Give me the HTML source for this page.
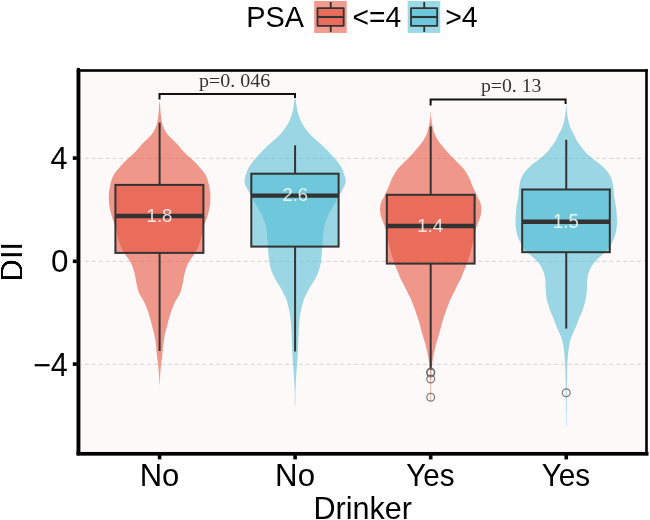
<!DOCTYPE html>
<html><head><meta charset="utf-8"><style>
html,body{margin:0;padding:0;background:#fff;}
svg{display:block;will-change:transform;}
text{font-family:"Liberation Sans", sans-serif;}
</style></head><body>
<svg width="650" height="520" viewBox="0 0 650 520">
<rect x="80" y="71" width="566" height="382" fill="#FDF9F8"/>
<line x1="81" y1="158.4" x2="645" y2="158.4" stroke="#DDD9D9" stroke-width="1.25" stroke-dasharray="3.8 3.1" stroke-dashoffset="-4"/>
<line x1="81" y1="261.3" x2="645" y2="261.3" stroke="#DDD9D9" stroke-width="1.25" stroke-dasharray="3.8 3.1" stroke-dashoffset="-4"/>
<line x1="81" y1="364.4" x2="645" y2="364.4" stroke="#DDD9D9" stroke-width="1.25" stroke-dasharray="3.8 3.1" stroke-dashoffset="-4"/>
<path d="M159.85,101.50 L159.85,102.00 L159.85,102.50 L159.85,103.00 L159.92,103.50 L159.99,104.00 L160.05,104.50 L160.10,105.00 L160.14,105.50 L160.17,106.00 L160.19,106.50 L160.22,107.00 L160.24,107.50 L160.26,108.00 L160.29,108.50 L160.31,109.00 L160.34,109.50 L160.38,110.00 L160.42,110.50 L160.46,111.00 L160.51,111.50 L160.56,112.00 L160.61,112.50 L160.66,113.00 L160.71,113.50 L160.76,114.00 L160.81,114.50 L160.86,115.00 L160.90,115.50 L160.95,116.00 L161.00,116.50 L161.05,117.00 L161.10,117.50 L161.15,118.00 L161.21,118.50 L161.27,119.00 L161.34,119.50 L161.42,120.00 L161.51,120.50 L161.60,121.00 L161.70,121.50 L161.81,122.00 L161.92,122.50 L162.04,123.00 L162.17,123.50 L162.30,124.00 L162.44,124.50 L162.61,125.00 L162.78,125.50 L162.97,126.00 L163.17,126.50 L163.38,127.00 L163.60,127.50 L163.83,128.00 L164.06,128.50 L164.30,129.00 L164.54,129.50 L164.80,130.00 L165.07,130.50 L165.36,131.00 L165.65,131.50 L165.96,132.00 L166.28,132.50 L166.61,133.00 L166.96,133.50 L167.32,134.00 L167.71,134.50 L168.12,135.00 L168.56,135.50 L169.01,136.00 L169.47,136.50 L169.95,137.00 L170.43,137.50 L170.92,138.00 L171.40,138.50 L171.89,139.00 L172.41,139.50 L172.94,140.00 L173.48,140.50 L174.02,141.00 L174.56,141.50 L175.09,142.00 L175.61,142.50 L176.11,143.00 L176.59,143.50 L177.05,144.00 L177.49,144.50 L177.93,145.00 L178.35,145.50 L178.77,146.00 L179.19,146.50 L179.60,147.00 L180.02,147.50 L180.43,148.00 L180.86,148.50 L181.29,149.00 L181.73,149.50 L182.18,150.00 L182.64,150.50 L183.10,151.00 L183.56,151.50 L184.04,152.00 L184.51,152.50 L184.99,153.00 L185.49,153.50 L185.99,154.00 L186.50,154.50 L187.02,155.00 L187.57,155.50 L188.13,156.00 L188.70,156.50 L189.28,157.00 L189.86,157.50 L190.44,158.00 L191.01,158.50 L191.57,159.00 L192.11,159.50 L192.64,160.00 L193.17,160.50 L193.70,161.00 L194.22,161.50 L194.74,162.00 L195.25,162.50 L195.75,163.00 L196.24,163.50 L196.71,164.00 L197.18,164.50 L197.63,165.00 L198.07,165.50 L198.50,166.00 L198.92,166.50 L199.34,167.00 L199.76,167.50 L200.17,168.00 L200.59,168.50 L201.00,169.00 L201.42,169.50 L201.86,170.00 L202.30,170.50 L202.74,171.00 L203.18,171.50 L203.60,172.00 L204.00,172.50 L204.37,173.00 L204.71,173.50 L205.02,174.00 L205.30,174.50 L205.57,175.00 L205.83,175.50 L206.08,176.00 L206.31,176.50 L206.53,177.00 L206.74,177.50 L206.94,178.00 L207.13,178.50 L207.31,179.00 L207.48,179.50 L207.64,180.00 L207.80,180.50 L207.95,181.00 L208.09,181.50 L208.23,182.00 L208.36,182.50 L208.48,183.00 L208.60,183.50 L208.71,184.00 L208.81,184.50 L208.91,185.00 L209.01,185.50 L209.10,186.00 L209.19,186.50 L209.27,187.00 L209.36,187.50 L209.45,188.00 L209.54,188.50 L209.63,189.00 L209.74,189.50 L209.84,190.00 L209.95,190.50 L210.05,191.00 L210.13,191.50 L210.21,192.00 L210.26,192.50 L210.30,193.00 L210.31,193.50 L210.32,194.00 L210.34,194.50 L210.35,195.00 L210.36,195.50 L210.37,196.00 L210.38,196.50 L210.38,197.00 L210.39,197.50 L210.39,198.00 L210.40,198.50 L210.40,199.00 L210.40,199.50 L210.40,200.00 L210.38,200.50 L210.35,201.00 L210.31,201.50 L210.27,202.00 L210.22,202.50 L210.16,203.00 L210.10,203.50 L210.05,204.00 L209.99,204.50 L209.93,205.00 L209.86,205.50 L209.78,206.00 L209.70,206.50 L209.62,207.00 L209.53,207.50 L209.44,208.00 L209.34,208.50 L209.24,209.00 L209.14,209.50 L209.03,210.00 L208.91,210.50 L208.79,211.00 L208.67,211.50 L208.54,212.00 L208.40,212.50 L208.27,213.00 L208.14,213.50 L208.00,214.00 L207.87,214.50 L207.73,215.00 L207.59,215.50 L207.45,216.00 L207.31,216.50 L207.16,217.00 L207.01,217.50 L206.86,218.00 L206.70,218.50 L206.53,219.00 L206.35,219.50 L206.17,220.00 L205.97,220.50 L205.77,221.00 L205.56,221.50 L205.36,222.00 L205.16,222.50 L204.96,223.00 L204.77,223.50 L204.59,224.00 L204.41,224.50 L204.23,225.00 L204.04,225.50 L203.86,226.00 L203.69,226.50 L203.53,227.00 L203.37,227.50 L203.23,228.00 L203.10,228.50 L202.98,229.00 L202.88,229.50 L202.78,230.00 L202.69,230.50 L202.61,231.00 L202.52,231.50 L202.44,232.00 L202.36,232.50 L202.28,233.00 L202.19,233.50 L202.10,234.00 L202.01,234.50 L201.90,235.00 L201.79,235.50 L201.66,236.00 L201.54,236.50 L201.41,237.00 L201.27,237.50 L201.13,238.00 L200.98,238.50 L200.84,239.00 L200.69,239.50 L200.54,240.00 L200.39,240.50 L200.23,241.00 L200.07,241.50 L199.90,242.00 L199.74,242.50 L199.57,243.00 L199.39,243.50 L199.22,244.00 L199.04,244.50 L198.86,245.00 L198.68,245.50 L198.49,246.00 L198.31,246.50 L198.12,247.00 L197.92,247.50 L197.72,248.00 L197.51,248.50 L197.29,249.00 L197.05,249.50 L196.80,250.00 L196.53,250.50 L196.24,251.00 L195.94,251.50 L195.63,252.00 L195.31,252.50 L194.99,253.00 L194.66,253.50 L194.33,254.00 L194.00,254.50 L193.66,255.00 L193.30,255.50 L192.94,256.00 L192.57,256.50 L192.21,257.00 L191.84,257.50 L191.48,258.00 L191.13,258.50 L190.80,259.00 L190.47,259.50 L190.14,260.00 L189.82,260.50 L189.50,261.00 L189.18,261.50 L188.87,262.00 L188.58,262.50 L188.30,263.00 L188.05,263.50 L187.81,264.00 L187.58,264.50 L187.36,265.00 L187.16,265.50 L186.96,266.00 L186.77,266.50 L186.59,267.00 L186.41,267.50 L186.24,268.00 L186.07,268.50 L185.90,269.00 L185.74,269.50 L185.58,270.00 L185.43,270.50 L185.28,271.00 L185.13,271.50 L184.99,272.00 L184.85,272.50 L184.72,273.00 L184.60,273.50 L184.48,274.00 L184.37,274.50 L184.26,275.00 L184.15,275.50 L184.04,276.00 L183.94,276.50 L183.85,277.00 L183.75,277.50 L183.66,278.00 L183.56,278.50 L183.48,279.00 L183.39,279.50 L183.31,280.00 L183.24,280.50 L183.16,281.00 L183.08,281.50 L183.00,282.00 L182.91,282.50 L182.82,283.00 L182.72,283.50 L182.61,284.00 L182.50,284.50 L182.38,285.00 L182.26,285.50 L182.14,286.00 L182.02,286.50 L181.90,287.00 L181.79,287.50 L181.68,288.00 L181.57,288.50 L181.46,289.00 L181.33,289.50 L181.18,290.00 L181.02,290.50 L180.85,291.00 L180.66,291.50 L180.46,292.00 L180.26,292.50 L180.04,293.00 L179.82,293.50 L179.59,294.00 L179.35,294.50 L179.10,295.00 L178.82,295.50 L178.53,296.00 L178.23,296.50 L177.92,297.00 L177.61,297.50 L177.30,298.00 L177.00,298.50 L176.71,299.00 L176.43,299.50 L176.16,300.00 L175.88,300.50 L175.61,301.00 L175.34,301.50 L175.08,302.00 L174.82,302.50 L174.57,303.00 L174.33,303.50 L174.10,304.00 L173.88,304.50 L173.67,305.00 L173.46,305.50 L173.26,306.00 L173.06,306.50 L172.87,307.00 L172.68,307.50 L172.50,308.00 L172.31,308.50 L172.13,309.00 L171.94,309.50 L171.76,310.00 L171.59,310.50 L171.41,311.00 L171.24,311.50 L171.07,312.00 L170.90,312.50 L170.73,313.00 L170.57,313.50 L170.40,314.00 L170.24,314.50 L170.07,315.00 L169.91,315.50 L169.75,316.00 L169.59,316.50 L169.44,317.00 L169.29,317.50 L169.14,318.00 L169.00,318.50 L168.86,319.00 L168.73,319.50 L168.61,320.00 L168.48,320.50 L168.36,321.00 L168.24,321.50 L168.12,322.00 L168.00,322.50 L167.87,323.00 L167.75,323.50 L167.63,324.00 L167.51,324.50 L167.39,325.00 L167.26,325.50 L167.14,326.00 L167.02,326.50 L166.89,327.00 L166.76,327.50 L166.63,328.00 L166.48,328.50 L166.33,329.00 L166.17,329.50 L166.00,330.00 L165.84,330.50 L165.69,331.00 L165.55,331.50 L165.43,332.00 L165.31,332.50 L165.20,333.00 L165.10,333.50 L165.00,334.00 L164.90,334.50 L164.81,335.00 L164.71,335.50 L164.63,336.00 L164.54,336.50 L164.45,337.00 L164.37,337.50 L164.28,338.00 L164.20,338.50 L164.12,339.00 L164.03,339.50 L163.95,340.00 L163.87,340.50 L163.79,341.00 L163.71,341.50 L163.63,342.00 L163.56,342.50 L163.48,343.00 L163.41,343.50 L163.35,344.00 L163.28,344.50 L163.22,345.00 L163.17,345.50 L163.12,346.00 L163.07,346.50 L163.02,347.00 L162.98,347.50 L162.93,348.00 L162.89,348.50 L162.85,349.00 L162.81,349.50 L162.77,350.00 L162.73,350.50 L162.68,351.00 L162.64,351.50 L162.59,352.00 L162.54,352.50 L162.49,353.00 L162.44,353.50 L162.39,354.00 L162.34,354.50 L162.29,355.00 L162.24,355.50 L162.19,356.00 L162.14,356.50 L162.08,357.00 L162.03,357.50 L161.97,358.00 L161.91,358.50 L161.85,359.00 L161.79,359.50 L161.72,360.00 L161.65,360.50 L161.58,361.00 L161.51,361.50 L161.44,362.00 L161.37,362.50 L161.30,363.00 L161.23,363.50 L161.17,364.00 L161.10,364.50 L161.04,365.00 L160.99,365.50 L160.94,366.00 L160.89,366.50 L160.84,367.00 L160.79,367.50 L160.74,368.00 L160.69,368.50 L160.65,369.00 L160.60,369.50 L160.56,370.00 L160.52,370.50 L160.48,371.00 L160.44,371.50 L160.41,372.00 L160.37,372.50 L160.34,373.00 L160.31,373.50 L160.28,374.00 L160.25,374.50 L160.22,375.00 L160.19,375.50 L160.17,376.00 L160.14,376.50 L160.11,377.00 L160.08,377.50 L160.05,378.00 L160.02,378.50 L159.99,379.00 L159.95,379.50 L159.92,380.00 L159.88,380.50 L159.85,381.00 L159.85,381.50 L159.85,382.00 L159.85,382.50 L159.85,383.00 L159.85,383.50 L159.85,384.00 L159.85,384.20 L159.35,384.20 L159.35,384.00 L159.35,383.50 L159.35,383.00 L159.35,382.50 L159.35,382.00 L159.35,381.50 L159.35,381.00 L159.32,380.50 L159.28,380.00 L159.25,379.50 L159.21,379.00 L159.18,378.50 L159.15,378.00 L159.12,377.50 L159.09,377.00 L159.06,376.50 L159.03,376.00 L159.01,375.50 L158.98,375.00 L158.95,374.50 L158.92,374.00 L158.89,373.50 L158.86,373.00 L158.83,372.50 L158.79,372.00 L158.76,371.50 L158.72,371.00 L158.68,370.50 L158.64,370.00 L158.60,369.50 L158.55,369.00 L158.51,368.50 L158.46,368.00 L158.41,367.50 L158.36,367.00 L158.31,366.50 L158.26,366.00 L158.21,365.50 L158.16,365.00 L158.10,364.50 L158.03,364.00 L157.97,363.50 L157.90,363.00 L157.83,362.50 L157.76,362.00 L157.69,361.50 L157.62,361.00 L157.55,360.50 L157.48,360.00 L157.41,359.50 L157.35,359.00 L157.29,358.50 L157.23,358.00 L157.17,357.50 L157.12,357.00 L157.06,356.50 L157.01,356.00 L156.96,355.50 L156.91,355.00 L156.86,354.50 L156.81,354.00 L156.76,353.50 L156.71,353.00 L156.66,352.50 L156.61,352.00 L156.56,351.50 L156.52,351.00 L156.47,350.50 L156.43,350.00 L156.39,349.50 L156.35,349.00 L156.31,348.50 L156.27,348.00 L156.22,347.50 L156.18,347.00 L156.13,346.50 L156.08,346.00 L156.03,345.50 L155.98,345.00 L155.92,344.50 L155.85,344.00 L155.79,343.50 L155.72,343.00 L155.64,342.50 L155.57,342.00 L155.49,341.50 L155.41,341.00 L155.33,340.50 L155.25,340.00 L155.17,339.50 L155.08,339.00 L155.00,338.50 L154.92,338.00 L154.83,337.50 L154.75,337.00 L154.66,336.50 L154.57,336.00 L154.49,335.50 L154.39,335.00 L154.30,334.50 L154.20,334.00 L154.10,333.50 L154.00,333.00 L153.89,332.50 L153.77,332.00 L153.65,331.50 L153.51,331.00 L153.36,330.50 L153.20,330.00 L153.03,329.50 L152.87,329.00 L152.72,328.50 L152.57,328.00 L152.44,327.50 L152.31,327.00 L152.18,326.50 L152.06,326.00 L151.94,325.50 L151.81,325.00 L151.69,324.50 L151.57,324.00 L151.45,323.50 L151.33,323.00 L151.20,322.50 L151.08,322.00 L150.96,321.50 L150.84,321.00 L150.72,320.50 L150.59,320.00 L150.47,319.50 L150.34,319.00 L150.20,318.50 L150.06,318.00 L149.91,317.50 L149.76,317.00 L149.61,316.50 L149.45,316.00 L149.29,315.50 L149.13,315.00 L148.96,314.50 L148.80,314.00 L148.63,313.50 L148.47,313.00 L148.30,312.50 L148.13,312.00 L147.96,311.50 L147.79,311.00 L147.61,310.50 L147.44,310.00 L147.26,309.50 L147.07,309.00 L146.89,308.50 L146.70,308.00 L146.52,307.50 L146.33,307.00 L146.14,306.50 L145.94,306.00 L145.74,305.50 L145.53,305.00 L145.32,304.50 L145.10,304.00 L144.87,303.50 L144.63,303.00 L144.38,302.50 L144.12,302.00 L143.86,301.50 L143.59,301.00 L143.32,300.50 L143.04,300.00 L142.77,299.50 L142.49,299.00 L142.20,298.50 L141.90,298.00 L141.59,297.50 L141.28,297.00 L140.97,296.50 L140.67,296.00 L140.38,295.50 L140.10,295.00 L139.85,294.50 L139.61,294.00 L139.38,293.50 L139.16,293.00 L138.94,292.50 L138.74,292.00 L138.54,291.50 L138.35,291.00 L138.18,290.50 L138.02,290.00 L137.87,289.50 L137.74,289.00 L137.63,288.50 L137.52,288.00 L137.41,287.50 L137.30,287.00 L137.18,286.50 L137.06,286.00 L136.94,285.50 L136.82,285.00 L136.70,284.50 L136.59,284.00 L136.48,283.50 L136.38,283.00 L136.29,282.50 L136.20,282.00 L136.12,281.50 L136.04,281.00 L135.96,280.50 L135.89,280.00 L135.81,279.50 L135.72,279.00 L135.64,278.50 L135.54,278.00 L135.45,277.50 L135.35,277.00 L135.26,276.50 L135.16,276.00 L135.05,275.50 L134.94,275.00 L134.83,274.50 L134.72,274.00 L134.60,273.50 L134.48,273.00 L134.35,272.50 L134.21,272.00 L134.07,271.50 L133.92,271.00 L133.77,270.50 L133.62,270.00 L133.46,269.50 L133.30,269.00 L133.13,268.50 L132.96,268.00 L132.79,267.50 L132.61,267.00 L132.43,266.50 L132.24,266.00 L132.04,265.50 L131.84,265.00 L131.62,264.50 L131.39,264.00 L131.15,263.50 L130.90,263.00 L130.62,262.50 L130.33,262.00 L130.02,261.50 L129.70,261.00 L129.38,260.50 L129.06,260.00 L128.73,259.50 L128.40,259.00 L128.07,258.50 L127.72,258.00 L127.36,257.50 L126.99,257.00 L126.63,256.50 L126.26,256.00 L125.90,255.50 L125.54,255.00 L125.20,254.50 L124.87,254.00 L124.54,253.50 L124.21,253.00 L123.89,252.50 L123.57,252.00 L123.26,251.50 L122.96,251.00 L122.67,250.50 L122.40,250.00 L122.15,249.50 L121.91,249.00 L121.69,248.50 L121.48,248.00 L121.28,247.50 L121.08,247.00 L120.89,246.50 L120.71,246.00 L120.52,245.50 L120.34,245.00 L120.16,244.50 L119.98,244.00 L119.81,243.50 L119.63,243.00 L119.46,242.50 L119.30,242.00 L119.13,241.50 L118.97,241.00 L118.81,240.50 L118.66,240.00 L118.51,239.50 L118.36,239.00 L118.22,238.50 L118.07,238.00 L117.93,237.50 L117.79,237.00 L117.66,236.50 L117.54,236.00 L117.41,235.50 L117.30,235.00 L117.19,234.50 L117.10,234.00 L117.01,233.50 L116.92,233.00 L116.84,232.50 L116.76,232.00 L116.68,231.50 L116.59,231.00 L116.51,230.50 L116.42,230.00 L116.32,229.50 L116.22,229.00 L116.10,228.50 L115.97,228.00 L115.83,227.50 L115.67,227.00 L115.51,226.50 L115.34,226.00 L115.16,225.50 L114.97,225.00 L114.79,224.50 L114.61,224.00 L114.43,223.50 L114.24,223.00 L114.04,222.50 L113.84,222.00 L113.64,221.50 L113.43,221.00 L113.23,220.50 L113.03,220.00 L112.85,219.50 L112.67,219.00 L112.50,218.50 L112.34,218.00 L112.19,217.50 L112.04,217.00 L111.89,216.50 L111.75,216.00 L111.61,215.50 L111.47,215.00 L111.33,214.50 L111.20,214.00 L111.06,213.50 L110.93,213.00 L110.80,212.50 L110.66,212.00 L110.53,211.50 L110.41,211.00 L110.29,210.50 L110.17,210.00 L110.06,209.50 L109.96,209.00 L109.86,208.50 L109.77,208.00 L109.67,207.50 L109.58,207.00 L109.50,206.50 L109.42,206.00 L109.34,205.50 L109.27,205.00 L109.21,204.50 L109.15,204.00 L109.10,203.50 L109.04,203.00 L108.98,202.50 L108.93,202.00 L108.89,201.50 L108.85,201.00 L108.82,200.50 L108.80,200.00 L108.80,199.50 L108.80,199.00 L108.80,198.50 L108.81,198.00 L108.81,197.50 L108.82,197.00 L108.82,196.50 L108.83,196.00 L108.84,195.50 L108.85,195.00 L108.86,194.50 L108.88,194.00 L108.89,193.50 L108.90,193.00 L108.94,192.50 L108.99,192.00 L109.07,191.50 L109.15,191.00 L109.25,190.50 L109.36,190.00 L109.46,189.50 L109.57,189.00 L109.66,188.50 L109.75,188.00 L109.84,187.50 L109.93,187.00 L110.01,186.50 L110.10,186.00 L110.19,185.50 L110.29,185.00 L110.39,184.50 L110.49,184.00 L110.60,183.50 L110.72,183.00 L110.84,182.50 L110.97,182.00 L111.11,181.50 L111.25,181.00 L111.40,180.50 L111.56,180.00 L111.72,179.50 L111.89,179.00 L112.07,178.50 L112.26,178.00 L112.46,177.50 L112.67,177.00 L112.89,176.50 L113.12,176.00 L113.37,175.50 L113.63,175.00 L113.90,174.50 L114.18,174.00 L114.49,173.50 L114.83,173.00 L115.20,172.50 L115.60,172.00 L116.02,171.50 L116.46,171.00 L116.90,170.50 L117.34,170.00 L117.78,169.50 L118.20,169.00 L118.61,168.50 L119.03,168.00 L119.44,167.50 L119.86,167.00 L120.28,166.50 L120.70,166.00 L121.13,165.50 L121.57,165.00 L122.02,164.50 L122.49,164.00 L122.96,163.50 L123.45,163.00 L123.95,162.50 L124.46,162.00 L124.98,161.50 L125.50,161.00 L126.03,160.50 L126.56,160.00 L127.09,159.50 L127.63,159.00 L128.19,158.50 L128.76,158.00 L129.34,157.50 L129.92,157.00 L130.50,156.50 L131.07,156.00 L131.63,155.50 L132.18,155.00 L132.70,154.50 L133.21,154.00 L133.71,153.50 L134.21,153.00 L134.69,152.50 L135.16,152.00 L135.64,151.50 L136.10,151.00 L136.56,150.50 L137.02,150.00 L137.47,149.50 L137.91,149.00 L138.34,148.50 L138.77,148.00 L139.18,147.50 L139.60,147.00 L140.01,146.50 L140.43,146.00 L140.85,145.50 L141.27,145.00 L141.71,144.50 L142.15,144.00 L142.61,143.50 L143.09,143.00 L143.59,142.50 L144.11,142.00 L144.64,141.50 L145.18,141.00 L145.72,140.50 L146.26,140.00 L146.79,139.50 L147.31,139.00 L147.80,138.50 L148.28,138.00 L148.77,137.50 L149.25,137.00 L149.73,136.50 L150.19,136.00 L150.64,135.50 L151.08,135.00 L151.49,134.50 L151.88,134.00 L152.24,133.50 L152.59,133.00 L152.92,132.50 L153.24,132.00 L153.55,131.50 L153.84,131.00 L154.13,130.50 L154.40,130.00 L154.66,129.50 L154.90,129.00 L155.14,128.50 L155.37,128.00 L155.60,127.50 L155.82,127.00 L156.03,126.50 L156.23,126.00 L156.42,125.50 L156.59,125.00 L156.76,124.50 L156.90,124.00 L157.03,123.50 L157.16,123.00 L157.28,122.50 L157.39,122.00 L157.50,121.50 L157.60,121.00 L157.69,120.50 L157.78,120.00 L157.86,119.50 L157.93,119.00 L157.99,118.50 L158.05,118.00 L158.10,117.50 L158.15,117.00 L158.20,116.50 L158.25,116.00 L158.30,115.50 L158.34,115.00 L158.39,114.50 L158.44,114.00 L158.49,113.50 L158.54,113.00 L158.59,112.50 L158.64,112.00 L158.69,111.50 L158.74,111.00 L158.78,110.50 L158.82,110.00 L158.86,109.50 L158.89,109.00 L158.91,108.50 L158.94,108.00 L158.96,107.50 L158.98,107.00 L159.01,106.50 L159.03,106.00 L159.06,105.50 L159.10,105.00 L159.15,104.50 L159.21,104.00 L159.28,103.50 L159.35,103.00 L159.35,102.50 L159.35,102.00 L159.35,101.50 Z" fill="#E64B35" fill-opacity="0.56"/>
<path d="M295.35,97.00 L295.35,97.50 L295.35,98.00 L295.44,98.50 L295.55,99.00 L295.65,99.50 L295.73,100.00 L295.81,100.50 L295.88,101.00 L295.95,101.50 L296.01,102.00 L296.08,102.50 L296.14,103.00 L296.20,103.50 L296.27,104.00 L296.34,104.50 L296.41,105.00 L296.48,105.50 L296.55,106.00 L296.62,106.50 L296.70,107.00 L296.77,107.50 L296.85,108.00 L296.94,108.50 L297.03,109.00 L297.12,109.50 L297.22,110.00 L297.33,110.50 L297.44,111.00 L297.56,111.50 L297.69,112.00 L297.82,112.50 L297.96,113.00 L298.10,113.50 L298.24,114.00 L298.39,114.50 L298.54,115.00 L298.70,115.50 L298.87,116.00 L299.04,116.50 L299.22,117.00 L299.41,117.50 L299.60,118.00 L299.80,118.50 L300.00,119.00 L300.21,119.50 L300.44,120.00 L300.67,120.50 L300.91,121.00 L301.16,121.50 L301.42,122.00 L301.69,122.50 L301.96,123.00 L302.23,123.50 L302.51,124.00 L302.80,124.50 L303.09,125.00 L303.39,125.50 L303.70,126.00 L304.02,126.50 L304.34,127.00 L304.68,127.50 L305.01,128.00 L305.36,128.50 L305.71,129.00 L306.07,129.50 L306.44,130.00 L306.82,130.50 L307.21,131.00 L307.61,131.50 L308.02,132.00 L308.44,132.50 L308.86,133.00 L309.30,133.50 L309.75,134.00 L310.22,134.50 L310.70,135.00 L311.19,135.50 L311.69,136.00 L312.21,136.50 L312.73,137.00 L313.25,137.50 L313.78,138.00 L314.31,138.50 L314.86,139.00 L315.42,139.50 L315.99,140.00 L316.57,140.50 L317.15,141.00 L317.74,141.50 L318.32,142.00 L318.90,142.50 L319.48,143.00 L320.05,143.50 L320.60,144.00 L321.15,144.50 L321.69,145.00 L322.23,145.50 L322.77,146.00 L323.30,146.50 L323.83,147.00 L324.36,147.50 L324.88,148.00 L325.39,148.50 L325.90,149.00 L326.40,149.50 L326.89,150.00 L327.38,150.50 L327.85,151.00 L328.33,151.50 L328.79,152.00 L329.25,152.50 L329.71,153.00 L330.17,153.50 L330.63,154.00 L331.09,154.50 L331.55,155.00 L332.02,155.50 L332.48,156.00 L332.94,156.50 L333.40,157.00 L333.85,157.50 L334.30,158.00 L334.75,158.50 L335.18,159.00 L335.61,159.50 L336.03,160.00 L336.46,160.50 L336.88,161.00 L337.29,161.50 L337.70,162.00 L338.09,162.50 L338.48,163.00 L338.85,163.50 L339.20,164.00 L339.54,164.50 L339.88,165.00 L340.21,165.50 L340.53,166.00 L340.84,166.50 L341.14,167.00 L341.43,167.50 L341.70,168.00 L341.95,168.50 L342.19,169.00 L342.42,169.50 L342.64,170.00 L342.85,170.50 L343.05,171.00 L343.24,171.50 L343.42,172.00 L343.60,172.50 L343.77,173.00 L343.94,173.50 L344.10,174.00 L344.25,174.50 L344.41,175.00 L344.56,175.50 L344.71,176.00 L344.85,176.50 L344.98,177.00 L345.10,177.50 L345.21,178.00 L345.30,178.50 L345.39,179.00 L345.48,179.50 L345.57,180.00 L345.63,180.50 L345.68,181.00 L345.70,181.50 L345.67,182.00 L345.59,182.50 L345.47,183.00 L345.33,183.50 L345.17,184.00 L345.00,184.50 L344.83,185.00 L344.64,185.50 L344.43,186.00 L344.19,186.50 L343.93,187.00 L343.66,187.50 L343.38,188.00 L343.10,188.50 L342.82,189.00 L342.55,189.50 L342.29,190.00 L342.03,190.50 L341.76,191.00 L341.49,191.50 L341.21,192.00 L340.94,192.50 L340.67,193.00 L340.39,193.50 L340.12,194.00 L339.85,194.50 L339.57,195.00 L339.30,195.50 L339.03,196.00 L338.76,196.50 L338.49,197.00 L338.21,197.50 L337.94,198.00 L337.67,198.50 L337.40,199.00 L337.13,199.50 L336.87,200.00 L336.60,200.50 L336.34,201.00 L336.07,201.50 L335.81,202.00 L335.54,202.50 L335.27,203.00 L334.99,203.50 L334.70,204.00 L334.40,204.50 L334.10,205.00 L333.78,205.50 L333.46,206.00 L333.13,206.50 L332.81,207.00 L332.49,207.50 L332.18,208.00 L331.87,208.50 L331.59,209.00 L331.30,209.50 L331.02,210.00 L330.75,210.50 L330.48,211.00 L330.22,211.50 L329.96,212.00 L329.70,212.50 L329.45,213.00 L329.20,213.50 L328.95,214.00 L328.71,214.50 L328.47,215.00 L328.23,215.50 L328.00,216.00 L327.77,216.50 L327.54,217.00 L327.32,217.50 L327.11,218.00 L326.90,218.50 L326.69,219.00 L326.49,219.50 L326.28,220.00 L326.08,220.50 L325.89,221.00 L325.70,221.50 L325.52,222.00 L325.35,222.50 L325.19,223.00 L325.04,223.50 L324.90,224.00 L324.77,224.50 L324.64,225.00 L324.52,225.50 L324.40,226.00 L324.29,226.50 L324.18,227.00 L324.08,227.50 L323.99,228.00 L323.90,228.50 L323.82,229.00 L323.74,229.50 L323.66,230.00 L323.58,230.50 L323.51,231.00 L323.44,231.50 L323.38,232.00 L323.31,232.50 L323.26,233.00 L323.20,233.50 L323.15,234.00 L323.11,234.50 L323.07,235.00 L323.03,235.50 L323.00,236.00 L322.97,236.50 L322.94,237.00 L322.91,237.50 L322.88,238.00 L322.85,238.50 L322.82,239.00 L322.79,239.50 L322.76,240.00 L322.73,240.50 L322.70,241.00 L322.67,241.50 L322.64,242.00 L322.61,242.50 L322.58,243.00 L322.54,243.50 L322.51,244.00 L322.48,244.50 L322.45,245.00 L322.42,245.50 L322.39,246.00 L322.36,246.50 L322.33,247.00 L322.30,247.50 L322.27,248.00 L322.23,248.50 L322.20,249.00 L322.16,249.50 L322.13,250.00 L322.09,250.50 L322.05,251.00 L322.00,251.50 L321.96,252.00 L321.92,252.50 L321.87,253.00 L321.83,253.50 L321.78,254.00 L321.74,254.50 L321.69,255.00 L321.64,255.50 L321.59,256.00 L321.54,256.50 L321.49,257.00 L321.44,257.50 L321.38,258.00 L321.32,258.50 L321.26,259.00 L321.20,259.50 L321.14,260.00 L321.07,260.50 L321.00,261.00 L320.93,261.50 L320.85,262.00 L320.77,262.50 L320.69,263.00 L320.60,263.50 L320.51,264.00 L320.41,264.50 L320.31,265.00 L320.20,265.50 L320.09,266.00 L319.97,266.50 L319.85,267.00 L319.72,267.50 L319.58,268.00 L319.44,268.50 L319.30,269.00 L319.14,269.50 L318.98,270.00 L318.81,270.50 L318.63,271.00 L318.45,271.50 L318.26,272.00 L318.06,272.50 L317.86,273.00 L317.65,273.50 L317.44,274.00 L317.23,274.50 L317.01,275.00 L316.78,275.50 L316.54,276.00 L316.29,276.50 L316.03,277.00 L315.76,277.50 L315.48,278.00 L315.21,278.50 L314.93,279.00 L314.66,279.50 L314.38,280.00 L314.10,280.50 L313.81,281.00 L313.52,281.50 L313.23,282.00 L312.93,282.50 L312.63,283.00 L312.34,283.50 L312.04,284.00 L311.74,284.50 L311.44,285.00 L311.13,285.50 L310.82,286.00 L310.51,286.50 L310.20,287.00 L309.89,287.50 L309.59,288.00 L309.29,288.50 L309.01,289.00 L308.74,289.50 L308.47,290.00 L308.22,290.50 L307.97,291.00 L307.72,291.50 L307.48,292.00 L307.23,292.50 L306.99,293.00 L306.75,293.50 L306.50,294.00 L306.24,294.50 L305.98,295.00 L305.71,295.50 L305.44,296.00 L305.18,296.50 L304.92,297.00 L304.67,297.50 L304.43,298.00 L304.22,298.50 L304.02,299.00 L303.85,299.50 L303.68,300.00 L303.51,300.50 L303.36,301.00 L303.21,301.50 L303.07,302.00 L302.93,302.50 L302.79,303.00 L302.65,303.50 L302.52,304.00 L302.38,304.50 L302.25,305.00 L302.12,305.50 L302.00,306.00 L301.87,306.50 L301.75,307.00 L301.63,307.50 L301.51,308.00 L301.40,308.50 L301.29,309.00 L301.17,309.50 L301.06,310.00 L300.95,310.50 L300.85,311.00 L300.74,311.50 L300.64,312.00 L300.54,312.50 L300.45,313.00 L300.37,313.50 L300.28,314.00 L300.20,314.50 L300.12,315.00 L300.05,315.50 L299.97,316.00 L299.90,316.50 L299.83,317.00 L299.77,317.50 L299.71,318.00 L299.65,318.50 L299.60,319.00 L299.55,319.50 L299.49,320.00 L299.44,320.50 L299.40,321.00 L299.35,321.50 L299.30,322.00 L299.26,322.50 L299.22,323.00 L299.18,323.50 L299.14,324.00 L299.11,324.50 L299.07,325.00 L299.04,325.50 L299.01,326.00 L298.98,326.50 L298.95,327.00 L298.92,327.50 L298.90,328.00 L298.87,328.50 L298.84,329.00 L298.82,329.50 L298.79,330.00 L298.77,330.50 L298.75,331.00 L298.72,331.50 L298.70,332.00 L298.68,332.50 L298.66,333.00 L298.63,333.50 L298.61,334.00 L298.59,334.50 L298.56,335.00 L298.54,335.50 L298.52,336.00 L298.50,336.50 L298.48,337.00 L298.46,337.50 L298.44,338.00 L298.41,338.50 L298.39,339.00 L298.37,339.50 L298.35,340.00 L298.33,340.50 L298.31,341.00 L298.29,341.50 L298.27,342.00 L298.25,342.50 L298.23,343.00 L298.21,343.50 L298.19,344.00 L298.17,344.50 L298.15,345.00 L298.13,345.50 L298.11,346.00 L298.09,346.50 L298.07,347.00 L298.05,347.50 L298.04,348.00 L298.02,348.50 L298.00,349.00 L297.98,349.50 L297.96,350.00 L297.94,350.50 L297.91,351.00 L297.89,351.50 L297.87,352.00 L297.85,352.50 L297.82,353.00 L297.80,353.50 L297.77,354.00 L297.75,354.50 L297.72,355.00 L297.69,355.50 L297.67,356.00 L297.64,356.50 L297.61,357.00 L297.58,357.50 L297.55,358.00 L297.51,358.50 L297.48,359.00 L297.45,359.50 L297.42,360.00 L297.38,360.50 L297.35,361.00 L297.31,361.50 L297.28,362.00 L297.24,362.50 L297.21,363.00 L297.17,363.50 L297.13,364.00 L297.09,364.50 L297.05,365.00 L297.01,365.50 L296.96,366.00 L296.92,366.50 L296.87,367.00 L296.83,367.50 L296.78,368.00 L296.74,368.50 L296.69,369.00 L296.65,369.50 L296.60,370.00 L296.56,370.50 L296.52,371.00 L296.48,371.50 L296.45,372.00 L296.41,372.50 L296.38,373.00 L296.35,373.50 L296.32,374.00 L296.29,374.50 L296.26,375.00 L296.23,375.50 L296.21,376.00 L296.18,376.50 L296.15,377.00 L296.13,377.50 L296.10,378.00 L296.08,378.50 L296.05,379.00 L296.03,379.50 L296.01,380.00 L295.98,380.50 L295.96,381.00 L295.94,381.50 L295.91,382.00 L295.89,382.50 L295.87,383.00 L295.84,383.50 L295.82,384.00 L295.80,384.50 L295.78,385.00 L295.76,385.50 L295.73,386.00 L295.71,386.50 L295.69,387.00 L295.67,387.50 L295.65,388.00 L295.63,388.50 L295.61,389.00 L295.59,389.50 L295.57,390.00 L295.55,390.50 L295.53,391.00 L295.51,391.50 L295.50,392.00 L295.48,392.50 L295.46,393.00 L295.45,393.50 L295.43,394.00 L295.41,394.50 L295.40,395.00 L295.38,395.50 L295.37,396.00 L295.35,396.50 L295.35,397.00 L295.35,397.50 L295.35,398.00 L295.35,398.50 L295.35,399.00 L295.35,399.50 L295.35,400.00 L295.35,400.50 L295.35,401.00 L295.35,401.50 L295.35,402.00 L295.35,402.50 L295.35,403.00 L295.35,403.50 L295.35,404.00 L295.35,404.50 L295.35,405.00 L295.35,405.40 L294.85,405.40 L294.85,405.00 L294.85,404.50 L294.85,404.00 L294.85,403.50 L294.85,403.00 L294.85,402.50 L294.85,402.00 L294.85,401.50 L294.85,401.00 L294.85,400.50 L294.85,400.00 L294.85,399.50 L294.85,399.00 L294.85,398.50 L294.85,398.00 L294.85,397.50 L294.85,397.00 L294.85,396.50 L294.83,396.00 L294.82,395.50 L294.80,395.00 L294.79,394.50 L294.77,394.00 L294.75,393.50 L294.74,393.00 L294.72,392.50 L294.70,392.00 L294.69,391.50 L294.67,391.00 L294.65,390.50 L294.63,390.00 L294.61,389.50 L294.59,389.00 L294.57,388.50 L294.55,388.00 L294.53,387.50 L294.51,387.00 L294.49,386.50 L294.47,386.00 L294.44,385.50 L294.42,385.00 L294.40,384.50 L294.38,384.00 L294.36,383.50 L294.33,383.00 L294.31,382.50 L294.29,382.00 L294.26,381.50 L294.24,381.00 L294.22,380.50 L294.19,380.00 L294.17,379.50 L294.15,379.00 L294.12,378.50 L294.10,378.00 L294.07,377.50 L294.05,377.00 L294.02,376.50 L293.99,376.00 L293.97,375.50 L293.94,375.00 L293.91,374.50 L293.88,374.00 L293.85,373.50 L293.82,373.00 L293.79,372.50 L293.75,372.00 L293.72,371.50 L293.68,371.00 L293.64,370.50 L293.60,370.00 L293.55,369.50 L293.51,369.00 L293.46,368.50 L293.42,368.00 L293.37,367.50 L293.33,367.00 L293.28,366.50 L293.24,366.00 L293.19,365.50 L293.15,365.00 L293.11,364.50 L293.07,364.00 L293.03,363.50 L292.99,363.00 L292.96,362.50 L292.92,362.00 L292.89,361.50 L292.85,361.00 L292.82,360.50 L292.78,360.00 L292.75,359.50 L292.72,359.00 L292.69,358.50 L292.65,358.00 L292.62,357.50 L292.59,357.00 L292.56,356.50 L292.53,356.00 L292.51,355.50 L292.48,355.00 L292.45,354.50 L292.43,354.00 L292.40,353.50 L292.38,353.00 L292.35,352.50 L292.33,352.00 L292.31,351.50 L292.29,351.00 L292.26,350.50 L292.24,350.00 L292.22,349.50 L292.20,349.00 L292.18,348.50 L292.16,348.00 L292.15,347.50 L292.13,347.00 L292.11,346.50 L292.09,346.00 L292.07,345.50 L292.05,345.00 L292.03,344.50 L292.01,344.00 L291.99,343.50 L291.97,343.00 L291.95,342.50 L291.93,342.00 L291.91,341.50 L291.89,341.00 L291.87,340.50 L291.85,340.00 L291.83,339.50 L291.81,339.00 L291.79,338.50 L291.76,338.00 L291.74,337.50 L291.72,337.00 L291.70,336.50 L291.68,336.00 L291.66,335.50 L291.64,335.00 L291.61,334.50 L291.59,334.00 L291.57,333.50 L291.54,333.00 L291.52,332.50 L291.50,332.00 L291.48,331.50 L291.45,331.00 L291.43,330.50 L291.41,330.00 L291.38,329.50 L291.36,329.00 L291.33,328.50 L291.30,328.00 L291.28,327.50 L291.25,327.00 L291.22,326.50 L291.19,326.00 L291.16,325.50 L291.13,325.00 L291.09,324.50 L291.06,324.00 L291.02,323.50 L290.98,323.00 L290.94,322.50 L290.90,322.00 L290.85,321.50 L290.80,321.00 L290.76,320.50 L290.71,320.00 L290.65,319.50 L290.60,319.00 L290.55,318.50 L290.49,318.00 L290.43,317.50 L290.37,317.00 L290.30,316.50 L290.23,316.00 L290.15,315.50 L290.08,315.00 L290.00,314.50 L289.92,314.00 L289.83,313.50 L289.75,313.00 L289.66,312.50 L289.56,312.00 L289.46,311.50 L289.35,311.00 L289.25,310.50 L289.14,310.00 L289.03,309.50 L288.91,309.00 L288.80,308.50 L288.69,308.00 L288.57,307.50 L288.45,307.00 L288.33,306.50 L288.20,306.00 L288.08,305.50 L287.95,305.00 L287.82,304.50 L287.68,304.00 L287.55,303.50 L287.41,303.00 L287.27,302.50 L287.13,302.00 L286.99,301.50 L286.84,301.00 L286.69,300.50 L286.52,300.00 L286.35,299.50 L286.18,299.00 L285.98,298.50 L285.77,298.00 L285.53,297.50 L285.28,297.00 L285.02,296.50 L284.76,296.00 L284.49,295.50 L284.22,295.00 L283.96,294.50 L283.70,294.00 L283.45,293.50 L283.21,293.00 L282.97,292.50 L282.72,292.00 L282.48,291.50 L282.23,291.00 L281.98,290.50 L281.73,290.00 L281.46,289.50 L281.19,289.00 L280.91,288.50 L280.61,288.00 L280.31,287.50 L280.00,287.00 L279.69,286.50 L279.38,286.00 L279.07,285.50 L278.76,285.00 L278.46,284.50 L278.16,284.00 L277.86,283.50 L277.57,283.00 L277.27,282.50 L276.97,282.00 L276.68,281.50 L276.39,281.00 L276.10,280.50 L275.82,280.00 L275.54,279.50 L275.27,279.00 L274.99,278.50 L274.72,278.00 L274.44,277.50 L274.17,277.00 L273.91,276.50 L273.66,276.00 L273.42,275.50 L273.19,275.00 L272.97,274.50 L272.76,274.00 L272.55,273.50 L272.34,273.00 L272.14,272.50 L271.94,272.00 L271.75,271.50 L271.57,271.00 L271.39,270.50 L271.22,270.00 L271.06,269.50 L270.90,269.00 L270.76,268.50 L270.62,268.00 L270.48,267.50 L270.35,267.00 L270.23,266.50 L270.11,266.00 L270.00,265.50 L269.89,265.00 L269.79,264.50 L269.69,264.00 L269.60,263.50 L269.51,263.00 L269.43,262.50 L269.35,262.00 L269.27,261.50 L269.20,261.00 L269.13,260.50 L269.06,260.00 L269.00,259.50 L268.94,259.00 L268.88,258.50 L268.82,258.00 L268.76,257.50 L268.71,257.00 L268.66,256.50 L268.61,256.00 L268.56,255.50 L268.51,255.00 L268.46,254.50 L268.42,254.00 L268.37,253.50 L268.33,253.00 L268.28,252.50 L268.24,252.00 L268.20,251.50 L268.15,251.00 L268.11,250.50 L268.07,250.00 L268.04,249.50 L268.00,249.00 L267.97,248.50 L267.93,248.00 L267.90,247.50 L267.87,247.00 L267.84,246.50 L267.81,246.00 L267.78,245.50 L267.75,245.00 L267.72,244.50 L267.69,244.00 L267.66,243.50 L267.62,243.00 L267.59,242.50 L267.56,242.00 L267.53,241.50 L267.50,241.00 L267.47,240.50 L267.44,240.00 L267.41,239.50 L267.38,239.00 L267.35,238.50 L267.32,238.00 L267.29,237.50 L267.26,237.00 L267.23,236.50 L267.20,236.00 L267.17,235.50 L267.13,235.00 L267.09,234.50 L267.05,234.00 L267.00,233.50 L266.94,233.00 L266.89,232.50 L266.82,232.00 L266.76,231.50 L266.69,231.00 L266.62,230.50 L266.54,230.00 L266.46,229.50 L266.38,229.00 L266.30,228.50 L266.21,228.00 L266.12,227.50 L266.02,227.00 L265.91,226.50 L265.80,226.00 L265.68,225.50 L265.56,225.00 L265.43,224.50 L265.30,224.00 L265.16,223.50 L265.01,223.00 L264.85,222.50 L264.68,222.00 L264.50,221.50 L264.31,221.00 L264.12,220.50 L263.92,220.00 L263.71,219.50 L263.51,219.00 L263.30,218.50 L263.09,218.00 L262.88,217.50 L262.66,217.00 L262.43,216.50 L262.20,216.00 L261.97,215.50 L261.73,215.00 L261.49,214.50 L261.25,214.00 L261.00,213.50 L260.75,213.00 L260.50,212.50 L260.24,212.00 L259.98,211.50 L259.72,211.00 L259.45,210.50 L259.18,210.00 L258.90,209.50 L258.61,209.00 L258.33,208.50 L258.02,208.00 L257.71,207.50 L257.39,207.00 L257.07,206.50 L256.74,206.00 L256.42,205.50 L256.10,205.00 L255.80,204.50 L255.50,204.00 L255.21,203.50 L254.93,203.00 L254.66,202.50 L254.39,202.00 L254.13,201.50 L253.86,201.00 L253.60,200.50 L253.33,200.00 L253.07,199.50 L252.80,199.00 L252.53,198.50 L252.26,198.00 L251.99,197.50 L251.71,197.00 L251.44,196.50 L251.17,196.00 L250.90,195.50 L250.63,195.00 L250.35,194.50 L250.08,194.00 L249.81,193.50 L249.53,193.00 L249.26,192.50 L248.99,192.00 L248.71,191.50 L248.44,191.00 L248.17,190.50 L247.91,190.00 L247.65,189.50 L247.38,189.00 L247.10,188.50 L246.82,188.00 L246.54,187.50 L246.27,187.00 L246.01,186.50 L245.77,186.00 L245.56,185.50 L245.37,185.00 L245.20,184.50 L245.03,184.00 L244.87,183.50 L244.73,183.00 L244.61,182.50 L244.53,182.00 L244.50,181.50 L244.52,181.00 L244.57,180.50 L244.63,180.00 L244.72,179.50 L244.81,179.00 L244.90,178.50 L244.99,178.00 L245.10,177.50 L245.22,177.00 L245.35,176.50 L245.49,176.00 L245.64,175.50 L245.79,175.00 L245.95,174.50 L246.10,174.00 L246.26,173.50 L246.43,173.00 L246.60,172.50 L246.78,172.00 L246.96,171.50 L247.15,171.00 L247.35,170.50 L247.56,170.00 L247.78,169.50 L248.01,169.00 L248.25,168.50 L248.50,168.00 L248.77,167.50 L249.06,167.00 L249.36,166.50 L249.67,166.00 L249.99,165.50 L250.32,165.00 L250.66,164.50 L251.00,164.00 L251.35,163.50 L251.72,163.00 L252.11,162.50 L252.50,162.00 L252.91,161.50 L253.32,161.00 L253.74,160.50 L254.17,160.00 L254.59,159.50 L255.02,159.00 L255.45,158.50 L255.90,158.00 L256.35,157.50 L256.80,157.00 L257.26,156.50 L257.72,156.00 L258.18,155.50 L258.65,155.00 L259.11,154.50 L259.57,154.00 L260.03,153.50 L260.49,153.00 L260.95,152.50 L261.41,152.00 L261.87,151.50 L262.35,151.00 L262.82,150.50 L263.31,150.00 L263.80,149.50 L264.30,149.00 L264.81,148.50 L265.32,148.00 L265.84,147.50 L266.37,147.00 L266.90,146.50 L267.43,146.00 L267.97,145.50 L268.51,145.00 L269.05,144.50 L269.60,144.00 L270.15,143.50 L270.72,143.00 L271.30,142.50 L271.88,142.00 L272.46,141.50 L273.05,141.00 L273.63,140.50 L274.21,140.00 L274.78,139.50 L275.34,139.00 L275.89,138.50 L276.42,138.00 L276.95,137.50 L277.47,137.00 L277.99,136.50 L278.51,136.00 L279.01,135.50 L279.50,135.00 L279.98,134.50 L280.45,134.00 L280.90,133.50 L281.34,133.00 L281.76,132.50 L282.18,132.00 L282.59,131.50 L282.99,131.00 L283.38,130.50 L283.76,130.00 L284.13,129.50 L284.49,129.00 L284.84,128.50 L285.19,128.00 L285.52,127.50 L285.86,127.00 L286.18,126.50 L286.50,126.00 L286.81,125.50 L287.11,125.00 L287.40,124.50 L287.69,124.00 L287.97,123.50 L288.24,123.00 L288.51,122.50 L288.78,122.00 L289.04,121.50 L289.29,121.00 L289.53,120.50 L289.76,120.00 L289.99,119.50 L290.20,119.00 L290.40,118.50 L290.60,118.00 L290.79,117.50 L290.98,117.00 L291.16,116.50 L291.33,116.00 L291.50,115.50 L291.66,115.00 L291.81,114.50 L291.96,114.00 L292.10,113.50 L292.24,113.00 L292.38,112.50 L292.51,112.00 L292.64,111.50 L292.76,111.00 L292.87,110.50 L292.98,110.00 L293.08,109.50 L293.17,109.00 L293.26,108.50 L293.35,108.00 L293.43,107.50 L293.50,107.00 L293.58,106.50 L293.65,106.00 L293.72,105.50 L293.79,105.00 L293.86,104.50 L293.93,104.00 L294.00,103.50 L294.06,103.00 L294.12,102.50 L294.19,102.00 L294.25,101.50 L294.32,101.00 L294.39,100.50 L294.47,100.00 L294.55,99.50 L294.65,99.00 L294.76,98.50 L294.85,98.00 L294.85,97.50 L294.85,97.00 Z" fill="#4DBBD5" fill-opacity="0.56"/>
<path d="M430.95,112.00 L430.95,112.50 L430.95,113.00 L430.95,113.50 L430.95,114.00 L430.95,114.50 L430.95,115.00 L430.96,115.50 L431.00,116.00 L431.05,116.50 L431.10,117.00 L431.16,117.50 L431.22,118.00 L431.28,118.50 L431.35,119.00 L431.41,119.50 L431.48,120.00 L431.54,120.50 L431.61,121.00 L431.68,121.50 L431.75,122.00 L431.82,122.50 L431.90,123.00 L431.98,123.50 L432.07,124.00 L432.15,124.50 L432.25,125.00 L432.35,125.50 L432.45,126.00 L432.56,126.50 L432.67,127.00 L432.78,127.50 L432.90,128.00 L433.02,128.50 L433.15,129.00 L433.28,129.50 L433.41,130.00 L433.54,130.50 L433.69,131.00 L433.83,131.50 L433.98,132.00 L434.14,132.50 L434.31,133.00 L434.49,133.50 L434.68,134.00 L434.88,134.50 L435.09,135.00 L435.32,135.50 L435.56,136.00 L435.81,136.50 L436.07,137.00 L436.34,137.50 L436.62,138.00 L436.90,138.50 L437.19,139.00 L437.50,139.50 L437.82,140.00 L438.15,140.50 L438.49,141.00 L438.84,141.50 L439.20,142.00 L439.56,142.50 L439.93,143.00 L440.30,143.50 L440.68,144.00 L441.07,144.50 L441.47,145.00 L441.88,145.50 L442.29,146.00 L442.70,146.50 L443.12,147.00 L443.53,147.50 L443.95,148.00 L444.36,148.50 L444.78,149.00 L445.19,149.50 L445.62,150.00 L446.04,150.50 L446.47,151.00 L446.90,151.50 L447.34,152.00 L447.78,152.50 L448.23,153.00 L448.69,153.50 L449.15,154.00 L449.62,154.50 L450.09,155.00 L450.57,155.50 L451.05,156.00 L451.54,156.50 L452.03,157.00 L452.52,157.50 L453.01,158.00 L453.51,158.50 L454.01,159.00 L454.50,159.50 L455.00,160.00 L455.50,160.50 L456.00,161.00 L456.51,161.50 L457.01,162.00 L457.52,162.50 L458.02,163.00 L458.52,163.50 L459.01,164.00 L459.50,164.50 L459.99,165.00 L460.48,165.50 L460.98,166.00 L461.48,166.50 L461.97,167.00 L462.44,167.50 L462.90,168.00 L463.33,168.50 L463.74,169.00 L464.13,169.50 L464.49,170.00 L464.84,170.50 L465.17,171.00 L465.49,171.50 L465.80,172.00 L466.11,172.50 L466.41,173.00 L466.71,173.50 L467.00,174.00 L467.29,174.50 L467.58,175.00 L467.87,175.50 L468.15,176.00 L468.43,176.50 L468.70,177.00 L468.96,177.50 L469.21,178.00 L469.46,178.50 L469.69,179.00 L469.91,179.50 L470.13,180.00 L470.33,180.50 L470.53,181.00 L470.73,181.50 L470.93,182.00 L471.12,182.50 L471.32,183.00 L471.52,183.50 L471.72,184.00 L471.93,184.50 L472.13,185.00 L472.33,185.50 L472.54,186.00 L472.74,186.50 L472.95,187.00 L473.16,187.50 L473.38,188.00 L473.60,188.50 L473.83,189.00 L474.06,189.50 L474.30,190.00 L474.55,190.50 L474.79,191.00 L475.04,191.50 L475.28,192.00 L475.53,192.50 L475.76,193.00 L475.99,193.50 L476.21,194.00 L476.42,194.50 L476.63,195.00 L476.84,195.50 L477.05,196.00 L477.26,196.50 L477.48,197.00 L477.71,197.50 L477.95,198.00 L478.22,198.50 L478.52,199.00 L478.85,199.50 L479.16,200.00 L479.46,200.50 L479.70,201.00 L479.91,201.50 L480.12,202.00 L480.31,202.50 L480.49,203.00 L480.65,203.50 L480.78,204.00 L480.88,204.50 L480.96,205.00 L481.04,205.50 L481.12,206.00 L481.19,206.50 L481.25,207.00 L481.30,207.50 L481.34,208.00 L481.38,208.50 L481.40,209.00 L481.40,209.50 L481.39,210.00 L481.36,210.50 L481.32,211.00 L481.28,211.50 L481.22,212.00 L481.15,212.50 L481.08,213.00 L481.01,213.50 L480.93,214.00 L480.85,214.50 L480.75,215.00 L480.63,215.50 L480.49,216.00 L480.34,216.50 L480.18,217.00 L480.01,217.50 L479.84,218.00 L479.67,218.50 L479.50,219.00 L479.32,219.50 L479.14,220.00 L478.94,220.50 L478.74,221.00 L478.53,221.50 L478.32,222.00 L478.11,222.50 L477.91,223.00 L477.71,223.50 L477.53,224.00 L477.34,224.50 L477.16,225.00 L476.97,225.50 L476.79,226.00 L476.62,226.50 L476.44,227.00 L476.28,227.50 L476.11,228.00 L475.96,228.50 L475.81,229.00 L475.67,229.50 L475.53,230.00 L475.40,230.50 L475.26,231.00 L475.14,231.50 L475.01,232.00 L474.89,232.50 L474.77,233.00 L474.65,233.50 L474.53,234.00 L474.41,234.50 L474.30,235.00 L474.19,235.50 L474.08,236.00 L473.97,236.50 L473.87,237.00 L473.77,237.50 L473.67,238.00 L473.57,238.50 L473.46,239.00 L473.36,239.50 L473.26,240.00 L473.16,240.50 L473.05,241.00 L472.95,241.50 L472.85,242.00 L472.75,242.50 L472.65,243.00 L472.54,243.50 L472.43,244.00 L472.32,244.50 L472.21,245.00 L472.09,245.50 L471.96,246.00 L471.84,246.50 L471.71,247.00 L471.58,247.50 L471.45,248.00 L471.32,248.50 L471.20,249.00 L471.08,249.50 L470.96,250.00 L470.85,250.50 L470.74,251.00 L470.63,251.50 L470.53,252.00 L470.42,252.50 L470.30,253.00 L470.18,253.50 L470.05,254.00 L469.92,254.50 L469.77,255.00 L469.61,255.50 L469.44,256.00 L469.27,256.50 L469.10,257.00 L468.92,257.50 L468.74,258.00 L468.57,258.50 L468.40,259.00 L468.23,259.50 L468.07,260.00 L467.91,260.50 L467.75,261.00 L467.58,261.50 L467.42,262.00 L467.25,262.50 L467.08,263.00 L466.91,263.50 L466.73,264.00 L466.54,264.50 L466.36,265.00 L466.17,265.50 L465.97,266.00 L465.78,266.50 L465.58,267.00 L465.38,267.50 L465.18,268.00 L464.98,268.50 L464.78,269.00 L464.57,269.50 L464.37,270.00 L464.16,270.50 L463.94,271.00 L463.73,271.50 L463.52,272.00 L463.31,272.50 L463.10,273.00 L462.90,273.50 L462.70,274.00 L462.51,274.50 L462.32,275.00 L462.13,275.50 L461.94,276.00 L461.75,276.50 L461.55,277.00 L461.35,277.50 L461.13,278.00 L460.91,278.50 L460.67,279.00 L460.42,279.50 L460.16,280.00 L459.90,280.50 L459.63,281.00 L459.36,281.50 L459.10,282.00 L458.83,282.50 L458.56,283.00 L458.29,283.50 L458.02,284.00 L457.75,284.50 L457.50,285.00 L457.25,285.50 L457.01,286.00 L456.77,286.50 L456.53,287.00 L456.30,287.50 L456.06,288.00 L455.83,288.50 L455.59,289.00 L455.35,289.50 L455.10,290.00 L454.86,290.50 L454.61,291.00 L454.36,291.50 L454.11,292.00 L453.85,292.50 L453.60,293.00 L453.35,293.50 L453.10,294.00 L452.85,294.50 L452.60,295.00 L452.34,295.50 L452.08,296.00 L451.82,296.50 L451.56,297.00 L451.31,297.50 L451.06,298.00 L450.82,298.50 L450.59,299.00 L450.37,299.50 L450.16,300.00 L449.95,300.50 L449.76,301.00 L449.56,301.50 L449.37,302.00 L449.18,302.50 L448.99,303.00 L448.80,303.50 L448.60,304.00 L448.40,304.50 L448.20,305.00 L447.99,305.50 L447.79,306.00 L447.59,306.50 L447.39,307.00 L447.19,307.50 L447.00,308.00 L446.81,308.50 L446.63,309.00 L446.46,309.50 L446.29,310.00 L446.13,310.50 L445.97,311.00 L445.81,311.50 L445.65,312.00 L445.49,312.50 L445.33,313.00 L445.17,313.50 L445.00,314.00 L444.82,314.50 L444.64,315.00 L444.46,315.50 L444.28,316.00 L444.10,316.50 L443.92,317.00 L443.74,317.50 L443.57,318.00 L443.40,318.50 L443.23,319.00 L443.07,319.50 L442.91,320.00 L442.74,320.50 L442.59,321.00 L442.43,321.50 L442.28,322.00 L442.13,322.50 L441.98,323.00 L441.85,323.50 L441.71,324.00 L441.58,324.50 L441.46,325.00 L441.34,325.50 L441.22,326.00 L441.10,326.50 L440.99,327.00 L440.87,327.50 L440.75,328.00 L440.63,328.50 L440.51,329.00 L440.38,329.50 L440.25,330.00 L440.11,330.50 L439.97,331.00 L439.82,331.50 L439.67,332.00 L439.52,332.50 L439.38,333.00 L439.23,333.50 L439.08,334.00 L438.93,334.50 L438.78,335.00 L438.64,335.50 L438.49,336.00 L438.35,336.50 L438.21,337.00 L438.06,337.50 L437.92,338.00 L437.77,338.50 L437.62,339.00 L437.47,339.50 L437.31,340.00 L437.15,340.50 L436.99,341.00 L436.83,341.50 L436.66,342.00 L436.50,342.50 L436.34,343.00 L436.20,343.50 L436.05,344.00 L435.92,344.50 L435.80,345.00 L435.68,345.50 L435.56,346.00 L435.45,346.50 L435.34,347.00 L435.23,347.50 L435.12,348.00 L435.01,348.50 L434.90,349.00 L434.78,349.50 L434.67,350.00 L434.55,350.50 L434.43,351.00 L434.31,351.50 L434.19,352.00 L434.08,352.50 L433.97,353.00 L433.86,353.50 L433.76,354.00 L433.66,354.50 L433.56,355.00 L433.46,355.50 L433.37,356.00 L433.28,356.50 L433.19,357.00 L433.10,357.50 L433.02,358.00 L432.93,358.50 L432.85,359.00 L432.77,359.50 L432.70,360.00 L432.62,360.50 L432.55,361.00 L432.48,361.50 L432.41,362.00 L432.34,362.50 L432.27,363.00 L432.20,363.50 L432.13,364.00 L432.06,364.50 L431.98,365.00 L431.91,365.50 L431.85,366.00 L431.78,366.50 L431.73,367.00 L431.68,367.50 L431.64,368.00 L431.59,368.50 L431.55,369.00 L431.51,369.50 L431.47,370.00 L431.43,370.50 L431.40,371.00 L431.36,371.50 L431.33,372.00 L431.30,372.50 L431.28,373.00 L431.25,373.50 L431.23,374.00 L431.21,374.50 L431.20,375.00 L431.19,375.50 L431.18,376.00 L431.17,376.50 L431.15,377.00 L431.14,377.50 L431.14,378.00 L431.13,378.50 L431.12,379.00 L431.11,379.50 L431.10,380.00 L431.10,380.50 L431.09,381.00 L431.08,381.50 L431.08,382.00 L431.07,382.50 L431.07,383.00 L431.06,383.50 L431.06,384.00 L431.05,384.50 L431.05,385.00 L431.05,385.50 L431.04,386.00 L431.04,386.50 L431.04,387.00 L431.04,387.50 L431.04,388.00 L431.03,388.50 L431.03,389.00 L431.03,389.50 L431.03,390.00 L431.03,390.50 L431.03,391.00 L431.03,391.50 L431.02,392.00 L431.02,392.50 L431.02,393.00 L431.02,393.50 L431.01,394.00 L431.01,394.50 L431.01,395.00 L431.00,395.50 L431.00,396.00 L430.99,396.50 L430.97,397.00 L430.95,397.50 L430.95,398.00 L430.95,398.50 L430.95,399.00 L430.95,399.50 L430.95,400.00 L430.95,400.50 L430.95,401.00 L430.45,401.00 L430.45,400.50 L430.45,400.00 L430.45,399.50 L430.45,399.00 L430.45,398.50 L430.45,398.00 L430.45,397.50 L430.43,397.00 L430.41,396.50 L430.40,396.00 L430.40,395.50 L430.39,395.00 L430.39,394.50 L430.39,394.00 L430.38,393.50 L430.38,393.00 L430.38,392.50 L430.38,392.00 L430.37,391.50 L430.37,391.00 L430.37,390.50 L430.37,390.00 L430.37,389.50 L430.37,389.00 L430.37,388.50 L430.36,388.00 L430.36,387.50 L430.36,387.00 L430.36,386.50 L430.36,386.00 L430.35,385.50 L430.35,385.00 L430.35,384.50 L430.34,384.00 L430.34,383.50 L430.33,383.00 L430.33,382.50 L430.32,382.00 L430.32,381.50 L430.31,381.00 L430.30,380.50 L430.30,380.00 L430.29,379.50 L430.28,379.00 L430.27,378.50 L430.26,378.00 L430.26,377.50 L430.25,377.00 L430.23,376.50 L430.22,376.00 L430.21,375.50 L430.20,375.00 L430.19,374.50 L430.17,374.00 L430.15,373.50 L430.12,373.00 L430.10,372.50 L430.07,372.00 L430.04,371.50 L430.00,371.00 L429.97,370.50 L429.93,370.00 L429.89,369.50 L429.85,369.00 L429.81,368.50 L429.76,368.00 L429.72,367.50 L429.67,367.00 L429.62,366.50 L429.55,366.00 L429.49,365.50 L429.42,365.00 L429.34,364.50 L429.27,364.00 L429.20,363.50 L429.13,363.00 L429.06,362.50 L428.99,362.00 L428.92,361.50 L428.85,361.00 L428.78,360.50 L428.70,360.00 L428.63,359.50 L428.55,359.00 L428.47,358.50 L428.38,358.00 L428.30,357.50 L428.21,357.00 L428.12,356.50 L428.03,356.00 L427.94,355.50 L427.84,355.00 L427.74,354.50 L427.64,354.00 L427.54,353.50 L427.43,353.00 L427.32,352.50 L427.21,352.00 L427.09,351.50 L426.97,351.00 L426.85,350.50 L426.73,350.00 L426.62,349.50 L426.50,349.00 L426.39,348.50 L426.28,348.00 L426.17,347.50 L426.06,347.00 L425.95,346.50 L425.84,346.00 L425.72,345.50 L425.60,345.00 L425.48,344.50 L425.35,344.00 L425.20,343.50 L425.06,343.00 L424.90,342.50 L424.74,342.00 L424.57,341.50 L424.41,341.00 L424.25,340.50 L424.09,340.00 L423.93,339.50 L423.78,339.00 L423.63,338.50 L423.48,338.00 L423.34,337.50 L423.19,337.00 L423.05,336.50 L422.91,336.00 L422.76,335.50 L422.62,335.00 L422.47,334.50 L422.32,334.00 L422.17,333.50 L422.02,333.00 L421.88,332.50 L421.73,332.00 L421.58,331.50 L421.43,331.00 L421.29,330.50 L421.15,330.00 L421.02,329.50 L420.89,329.00 L420.77,328.50 L420.65,328.00 L420.53,327.50 L420.41,327.00 L420.30,326.50 L420.18,326.00 L420.06,325.50 L419.94,325.00 L419.82,324.50 L419.69,324.00 L419.55,323.50 L419.42,323.00 L419.27,322.50 L419.12,322.00 L418.97,321.50 L418.81,321.00 L418.66,320.50 L418.49,320.00 L418.33,319.50 L418.17,319.00 L418.00,318.50 L417.83,318.00 L417.66,317.50 L417.48,317.00 L417.30,316.50 L417.12,316.00 L416.94,315.50 L416.76,315.00 L416.58,314.50 L416.40,314.00 L416.23,313.50 L416.07,313.00 L415.91,312.50 L415.75,312.00 L415.59,311.50 L415.43,311.00 L415.27,310.50 L415.11,310.00 L414.94,309.50 L414.77,309.00 L414.59,308.50 L414.40,308.00 L414.21,307.50 L414.01,307.00 L413.81,306.50 L413.61,306.00 L413.41,305.50 L413.20,305.00 L413.00,304.50 L412.80,304.00 L412.60,303.50 L412.41,303.00 L412.22,302.50 L412.03,302.00 L411.84,301.50 L411.64,301.00 L411.45,300.50 L411.24,300.00 L411.03,299.50 L410.81,299.00 L410.58,298.50 L410.34,298.00 L410.09,297.50 L409.84,297.00 L409.58,296.50 L409.32,296.00 L409.06,295.50 L408.80,295.00 L408.55,294.50 L408.30,294.00 L408.05,293.50 L407.80,293.00 L407.55,292.50 L407.29,292.00 L407.04,291.50 L406.79,291.00 L406.54,290.50 L406.30,290.00 L406.05,289.50 L405.81,289.00 L405.57,288.50 L405.34,288.00 L405.10,287.50 L404.87,287.00 L404.63,286.50 L404.39,286.00 L404.15,285.50 L403.90,285.00 L403.65,284.50 L403.38,284.00 L403.11,283.50 L402.84,283.00 L402.57,282.50 L402.30,282.00 L402.04,281.50 L401.77,281.00 L401.50,280.50 L401.24,280.00 L400.98,279.50 L400.73,279.00 L400.49,278.50 L400.27,278.00 L400.05,277.50 L399.85,277.00 L399.65,276.50 L399.46,276.00 L399.27,275.50 L399.08,275.00 L398.89,274.50 L398.70,274.00 L398.50,273.50 L398.30,273.00 L398.09,272.50 L397.88,272.00 L397.67,271.50 L397.46,271.00 L397.24,270.50 L397.03,270.00 L396.83,269.50 L396.62,269.00 L396.42,268.50 L396.22,268.00 L396.02,267.50 L395.82,267.00 L395.62,266.50 L395.43,266.00 L395.23,265.50 L395.04,265.00 L394.86,264.50 L394.67,264.00 L394.49,263.50 L394.32,263.00 L394.15,262.50 L393.98,262.00 L393.82,261.50 L393.65,261.00 L393.49,260.50 L393.33,260.00 L393.17,259.50 L393.00,259.00 L392.83,258.50 L392.66,258.00 L392.48,257.50 L392.30,257.00 L392.13,256.50 L391.96,256.00 L391.79,255.50 L391.63,255.00 L391.48,254.50 L391.35,254.00 L391.22,253.50 L391.10,253.00 L390.98,252.50 L390.87,252.00 L390.77,251.50 L390.66,251.00 L390.55,250.50 L390.44,250.00 L390.32,249.50 L390.20,249.00 L390.08,248.50 L389.95,248.00 L389.82,247.50 L389.69,247.00 L389.56,246.50 L389.44,246.00 L389.31,245.50 L389.19,245.00 L389.08,244.50 L388.97,244.00 L388.86,243.50 L388.75,243.00 L388.65,242.50 L388.55,242.00 L388.45,241.50 L388.35,241.00 L388.24,240.50 L388.14,240.00 L388.04,239.50 L387.94,239.00 L387.83,238.50 L387.73,238.00 L387.63,237.50 L387.53,237.00 L387.43,236.50 L387.32,236.00 L387.21,235.50 L387.10,235.00 L386.99,234.50 L386.87,234.00 L386.75,233.50 L386.63,233.00 L386.51,232.50 L386.39,232.00 L386.26,231.50 L386.14,231.00 L386.00,230.50 L385.87,230.00 L385.73,229.50 L385.59,229.00 L385.44,228.50 L385.29,228.00 L385.12,227.50 L384.96,227.00 L384.78,226.50 L384.61,226.00 L384.43,225.50 L384.24,225.00 L384.06,224.50 L383.87,224.00 L383.69,223.50 L383.49,223.00 L383.29,222.50 L383.08,222.00 L382.87,221.50 L382.66,221.00 L382.46,220.50 L382.26,220.00 L382.08,219.50 L381.90,219.00 L381.73,218.50 L381.56,218.00 L381.39,217.50 L381.22,217.00 L381.06,216.50 L380.91,216.00 L380.77,215.50 L380.65,215.00 L380.55,214.50 L380.47,214.00 L380.39,213.50 L380.32,213.00 L380.25,212.50 L380.18,212.00 L380.12,211.50 L380.08,211.00 L380.04,210.50 L380.01,210.00 L380.00,209.50 L380.00,209.00 L380.02,208.50 L380.06,208.00 L380.10,207.50 L380.15,207.00 L380.21,206.50 L380.28,206.00 L380.36,205.50 L380.44,205.00 L380.52,204.50 L380.62,204.00 L380.75,203.50 L380.91,203.00 L381.09,202.50 L381.28,202.00 L381.49,201.50 L381.70,201.00 L381.94,200.50 L382.24,200.00 L382.55,199.50 L382.88,199.00 L383.18,198.50 L383.45,198.00 L383.69,197.50 L383.92,197.00 L384.14,196.50 L384.35,196.00 L384.56,195.50 L384.77,195.00 L384.98,194.50 L385.19,194.00 L385.41,193.50 L385.64,193.00 L385.87,192.50 L386.12,192.00 L386.36,191.50 L386.61,191.00 L386.85,190.50 L387.10,190.00 L387.34,189.50 L387.57,189.00 L387.80,188.50 L388.02,188.00 L388.24,187.50 L388.45,187.00 L388.66,186.50 L388.86,186.00 L389.07,185.50 L389.27,185.00 L389.47,184.50 L389.68,184.00 L389.88,183.50 L390.08,183.00 L390.28,182.50 L390.47,182.00 L390.67,181.50 L390.87,181.00 L391.07,180.50 L391.27,180.00 L391.49,179.50 L391.71,179.00 L391.94,178.50 L392.19,178.00 L392.44,177.50 L392.70,177.00 L392.97,176.50 L393.25,176.00 L393.53,175.50 L393.82,175.00 L394.11,174.50 L394.40,174.00 L394.69,173.50 L394.99,173.00 L395.29,172.50 L395.60,172.00 L395.91,171.50 L396.23,171.00 L396.56,170.50 L396.91,170.00 L397.27,169.50 L397.66,169.00 L398.07,168.50 L398.50,168.00 L398.96,167.50 L399.43,167.00 L399.92,166.50 L400.42,166.00 L400.92,165.50 L401.41,165.00 L401.90,164.50 L402.39,164.00 L402.88,163.50 L403.38,163.00 L403.88,162.50 L404.39,162.00 L404.89,161.50 L405.40,161.00 L405.90,160.50 L406.40,160.00 L406.90,159.50 L407.39,159.00 L407.89,158.50 L408.39,158.00 L408.88,157.50 L409.37,157.00 L409.86,156.50 L410.35,156.00 L410.83,155.50 L411.31,155.00 L411.78,154.50 L412.25,154.00 L412.71,153.50 L413.17,153.00 L413.62,152.50 L414.06,152.00 L414.50,151.50 L414.93,151.00 L415.36,150.50 L415.78,150.00 L416.21,149.50 L416.62,149.00 L417.04,148.50 L417.45,148.00 L417.87,147.50 L418.28,147.00 L418.70,146.50 L419.11,146.00 L419.52,145.50 L419.93,145.00 L420.33,144.50 L420.72,144.00 L421.10,143.50 L421.47,143.00 L421.84,142.50 L422.20,142.00 L422.56,141.50 L422.91,141.00 L423.25,140.50 L423.58,140.00 L423.90,139.50 L424.21,139.00 L424.50,138.50 L424.78,138.00 L425.06,137.50 L425.33,137.00 L425.59,136.50 L425.84,136.00 L426.08,135.50 L426.31,135.00 L426.52,134.50 L426.72,134.00 L426.91,133.50 L427.09,133.00 L427.26,132.50 L427.42,132.00 L427.57,131.50 L427.71,131.00 L427.86,130.50 L427.99,130.00 L428.12,129.50 L428.25,129.00 L428.38,128.50 L428.50,128.00 L428.62,127.50 L428.73,127.00 L428.84,126.50 L428.95,126.00 L429.05,125.50 L429.15,125.00 L429.25,124.50 L429.33,124.00 L429.42,123.50 L429.50,123.00 L429.58,122.50 L429.65,122.00 L429.72,121.50 L429.79,121.00 L429.86,120.50 L429.92,120.00 L429.99,119.50 L430.05,119.00 L430.12,118.50 L430.18,118.00 L430.24,117.50 L430.30,117.00 L430.35,116.50 L430.40,116.00 L430.44,115.50 L430.45,115.00 L430.45,114.50 L430.45,114.00 L430.45,113.50 L430.45,113.00 L430.45,112.50 L430.45,112.00 Z" fill="#E64B35" fill-opacity="0.56"/>
<path d="M566.50,105.00 L566.50,105.50 L566.50,106.00 L566.50,106.50 L566.50,107.00 L566.50,107.50 L566.55,108.00 L566.60,108.50 L566.65,109.00 L566.70,109.50 L566.74,110.00 L566.79,110.50 L566.85,111.00 L566.90,111.50 L566.96,112.00 L567.01,112.50 L567.07,113.00 L567.13,113.50 L567.19,114.00 L567.25,114.50 L567.31,115.00 L567.38,115.50 L567.45,116.00 L567.52,116.50 L567.60,117.00 L567.68,117.50 L567.77,118.00 L567.86,118.50 L567.96,119.00 L568.07,119.50 L568.18,120.00 L568.29,120.50 L568.41,121.00 L568.54,121.50 L568.66,122.00 L568.79,122.50 L568.92,123.00 L569.06,123.50 L569.20,124.00 L569.34,124.50 L569.49,125.00 L569.65,125.50 L569.81,126.00 L569.98,126.50 L570.16,127.00 L570.34,127.50 L570.53,128.00 L570.73,128.50 L570.94,129.00 L571.17,129.50 L571.42,130.00 L571.69,130.50 L571.98,131.00 L572.27,131.50 L572.57,132.00 L572.87,132.50 L573.17,133.00 L573.46,133.50 L573.74,134.00 L574.00,134.50 L574.24,135.00 L574.47,135.50 L574.69,136.00 L574.90,136.50 L575.11,137.00 L575.31,137.50 L575.52,138.00 L575.73,138.50 L575.95,139.00 L576.19,139.50 L576.44,140.00 L576.71,140.50 L576.99,141.00 L577.31,141.50 L577.63,142.00 L577.98,142.50 L578.33,143.00 L578.70,143.50 L579.07,144.00 L579.45,144.50 L579.83,145.00 L580.20,145.50 L580.58,146.00 L580.94,146.50 L581.31,147.00 L581.69,147.50 L582.06,148.00 L582.45,148.50 L582.84,149.00 L583.24,149.50 L583.65,150.00 L584.07,150.50 L584.49,151.00 L584.92,151.50 L585.36,152.00 L585.81,152.50 L586.27,153.00 L586.74,153.50 L587.23,154.00 L587.74,154.50 L588.26,155.00 L588.82,155.50 L589.40,156.00 L590.00,156.50 L590.62,157.00 L591.25,157.50 L591.89,158.00 L592.54,158.50 L593.18,159.00 L593.82,159.50 L594.47,160.00 L595.13,160.50 L595.80,161.00 L596.48,161.50 L597.16,162.00 L597.84,162.50 L598.51,163.00 L599.15,163.50 L599.77,164.00 L600.37,164.50 L600.94,165.00 L601.50,165.50 L602.05,166.00 L602.59,166.50 L603.12,167.00 L603.63,167.50 L604.12,168.00 L604.60,168.50 L605.07,169.00 L605.52,169.50 L605.96,170.00 L606.40,170.50 L606.83,171.00 L607.24,171.50 L607.64,172.00 L608.02,172.50 L608.39,173.00 L608.73,173.50 L609.05,174.00 L609.35,174.50 L609.65,175.00 L609.93,175.50 L610.20,176.00 L610.46,176.50 L610.71,177.00 L610.93,177.50 L611.15,178.00 L611.34,178.50 L611.52,179.00 L611.68,179.50 L611.84,180.00 L611.99,180.50 L612.13,181.00 L612.26,181.50 L612.39,182.00 L612.50,182.50 L612.61,183.00 L612.71,183.50 L612.81,184.00 L612.89,184.50 L612.98,185.00 L613.06,185.50 L613.13,186.00 L613.21,186.50 L613.27,187.00 L613.34,187.50 L613.40,188.00 L613.45,188.50 L613.50,189.00 L613.54,189.50 L613.59,190.00 L613.62,190.50 L613.66,191.00 L613.70,191.50 L613.74,192.00 L613.78,192.50 L613.82,193.00 L613.87,193.50 L613.92,194.00 L613.98,194.50 L614.04,195.00 L614.10,195.50 L614.16,196.00 L614.23,196.50 L614.30,197.00 L614.37,197.50 L614.44,198.00 L614.51,198.50 L614.59,199.00 L614.67,199.50 L614.75,200.00 L614.84,200.50 L614.93,201.00 L615.02,201.50 L615.11,202.00 L615.20,202.50 L615.28,203.00 L615.37,203.50 L615.45,204.00 L615.53,204.50 L615.61,205.00 L615.69,205.50 L615.77,206.00 L615.85,206.50 L615.93,207.00 L616.01,207.50 L616.08,208.00 L616.14,208.50 L616.21,209.00 L616.26,209.50 L616.31,210.00 L616.36,210.50 L616.40,211.00 L616.45,211.50 L616.49,212.00 L616.53,212.50 L616.56,213.00 L616.60,213.50 L616.64,214.00 L616.67,214.50 L616.71,215.00 L616.75,215.50 L616.80,216.00 L616.84,216.50 L616.87,217.00 L616.90,217.50 L616.93,218.00 L616.94,218.50 L616.95,219.00 L616.95,219.50 L616.95,220.00 L616.95,220.50 L616.95,221.00 L616.95,221.50 L616.95,222.00 L616.95,222.50 L616.95,223.00 L616.95,223.50 L616.95,224.00 L616.93,224.50 L616.90,225.00 L616.86,225.50 L616.81,226.00 L616.75,226.50 L616.68,227.00 L616.62,227.50 L616.55,228.00 L616.48,228.50 L616.41,229.00 L616.34,229.50 L616.26,230.00 L616.17,230.50 L616.08,231.00 L615.98,231.50 L615.88,232.00 L615.78,232.50 L615.67,233.00 L615.55,233.50 L615.43,234.00 L615.30,234.50 L615.16,235.00 L615.01,235.50 L614.86,236.00 L614.70,236.50 L614.53,237.00 L614.35,237.50 L614.16,238.00 L613.97,238.50 L613.75,239.00 L613.51,239.50 L613.26,240.00 L613.00,240.50 L612.75,241.00 L612.51,241.50 L612.27,242.00 L612.03,242.50 L611.79,243.00 L611.54,243.50 L611.28,244.00 L611.01,244.50 L610.72,245.00 L610.42,245.50 L610.10,246.00 L609.78,246.50 L609.44,247.00 L609.10,247.50 L608.73,248.00 L608.36,248.50 L607.97,249.00 L607.57,249.50 L607.14,250.00 L606.68,250.50 L606.20,251.00 L605.70,251.50 L605.18,252.00 L604.66,252.50 L604.13,253.00 L603.59,253.50 L603.06,254.00 L602.53,254.50 L601.98,255.00 L601.42,255.50 L600.85,256.00 L600.28,256.50 L599.71,257.00 L599.14,257.50 L598.59,258.00 L598.06,258.50 L597.55,259.00 L597.06,259.50 L596.57,260.00 L596.08,260.50 L595.61,261.00 L595.14,261.50 L594.69,262.00 L594.26,262.50 L593.85,263.00 L593.47,263.50 L593.11,264.00 L592.76,264.50 L592.43,265.00 L592.11,265.50 L591.80,266.00 L591.51,266.50 L591.22,267.00 L590.95,267.50 L590.69,268.00 L590.45,268.50 L590.21,269.00 L589.98,269.50 L589.75,270.00 L589.53,270.50 L589.32,271.00 L589.12,271.50 L588.93,272.00 L588.76,272.50 L588.59,273.00 L588.45,273.50 L588.32,274.00 L588.19,274.50 L588.06,275.00 L587.95,275.50 L587.84,276.00 L587.73,276.50 L587.64,277.00 L587.56,277.50 L587.49,278.00 L587.43,278.50 L587.37,279.00 L587.32,279.50 L587.27,280.00 L587.22,280.50 L587.18,281.00 L587.14,281.50 L587.11,282.00 L587.08,282.50 L587.05,283.00 L587.03,283.50 L587.01,284.00 L587.00,284.50 L586.98,285.00 L586.97,285.50 L586.96,286.00 L586.95,286.50 L586.94,287.00 L586.93,287.50 L586.91,288.00 L586.90,288.50 L586.88,289.00 L586.85,289.50 L586.83,290.00 L586.79,290.50 L586.75,291.00 L586.69,291.50 L586.64,292.00 L586.58,292.50 L586.52,293.00 L586.46,293.50 L586.40,294.00 L586.34,294.50 L586.28,295.00 L586.23,295.50 L586.17,296.00 L586.12,296.50 L586.06,297.00 L586.00,297.50 L585.93,298.00 L585.86,298.50 L585.78,299.00 L585.70,299.50 L585.59,300.00 L585.47,300.50 L585.34,301.00 L585.20,301.50 L585.05,302.00 L584.90,302.50 L584.74,303.00 L584.59,303.50 L584.45,304.00 L584.31,304.50 L584.17,305.00 L584.03,305.50 L583.89,306.00 L583.75,306.50 L583.61,307.00 L583.46,307.50 L583.31,308.00 L583.15,308.50 L582.98,309.00 L582.81,309.50 L582.63,310.00 L582.44,310.50 L582.25,311.00 L582.05,311.50 L581.85,312.00 L581.65,312.50 L581.44,313.00 L581.23,313.50 L581.02,314.00 L580.80,314.50 L580.57,315.00 L580.33,315.50 L580.09,316.00 L579.85,316.50 L579.61,317.00 L579.38,317.50 L579.16,318.00 L578.95,318.50 L578.76,319.00 L578.57,319.50 L578.39,320.00 L578.22,320.50 L578.05,321.00 L577.88,321.50 L577.71,322.00 L577.54,322.50 L577.36,323.00 L577.18,323.50 L576.99,324.00 L576.80,324.50 L576.61,325.00 L576.42,325.50 L576.22,326.00 L576.02,326.50 L575.82,327.00 L575.61,327.50 L575.39,328.00 L575.17,328.50 L574.93,329.00 L574.68,329.50 L574.45,330.00 L574.22,330.50 L574.00,331.00 L573.78,331.50 L573.56,332.00 L573.34,332.50 L573.12,333.00 L572.91,333.50 L572.70,334.00 L572.49,334.50 L572.29,335.00 L572.09,335.50 L571.89,336.00 L571.69,336.50 L571.50,337.00 L571.30,337.50 L571.11,338.00 L570.93,338.50 L570.76,339.00 L570.60,339.50 L570.45,340.00 L570.31,340.50 L570.18,341.00 L570.06,341.50 L569.93,342.00 L569.82,342.50 L569.71,343.00 L569.60,343.50 L569.49,344.00 L569.40,344.50 L569.30,345.00 L569.22,345.50 L569.13,346.00 L569.05,346.50 L568.98,347.00 L568.90,347.50 L568.83,348.00 L568.76,348.50 L568.69,349.00 L568.62,349.50 L568.55,350.00 L568.49,350.50 L568.42,351.00 L568.36,351.50 L568.30,352.00 L568.25,352.50 L568.19,353.00 L568.14,353.50 L568.09,354.00 L568.04,354.50 L567.99,355.00 L567.95,355.50 L567.91,356.00 L567.87,356.50 L567.83,357.00 L567.79,357.50 L567.75,358.00 L567.72,358.50 L567.68,359.00 L567.65,359.50 L567.62,360.00 L567.59,360.50 L567.56,361.00 L567.53,361.50 L567.50,362.00 L567.47,362.50 L567.44,363.00 L567.42,363.50 L567.39,364.00 L567.37,364.50 L567.35,365.00 L567.32,365.50 L567.30,366.00 L567.28,366.50 L567.26,367.00 L567.24,367.50 L567.22,368.00 L567.21,368.50 L567.19,369.00 L567.17,369.50 L567.16,370.00 L567.14,370.50 L567.12,371.00 L567.11,371.50 L567.09,372.00 L567.08,372.50 L567.07,373.00 L567.05,373.50 L567.04,374.00 L567.03,374.50 L567.02,375.00 L567.00,375.50 L566.99,376.00 L566.98,376.50 L566.97,377.00 L566.96,377.50 L566.95,378.00 L566.94,378.50 L566.93,379.00 L566.92,379.50 L566.91,380.00 L566.90,380.50 L566.89,381.00 L566.88,381.50 L566.87,382.00 L566.86,382.50 L566.85,383.00 L566.84,383.50 L566.83,384.00 L566.83,384.50 L566.82,385.00 L566.81,385.50 L566.80,386.00 L566.79,386.50 L566.79,387.00 L566.78,387.50 L566.77,388.00 L566.77,388.50 L566.76,389.00 L566.76,389.50 L566.75,390.00 L566.74,390.50 L566.74,391.00 L566.74,391.50 L566.73,392.00 L566.73,392.50 L566.72,393.00 L566.72,393.50 L566.71,394.00 L566.71,394.50 L566.71,395.00 L566.70,395.50 L566.70,396.00 L566.70,396.50 L566.69,397.00 L566.69,397.50 L566.69,398.00 L566.69,398.50 L566.68,399.00 L566.68,399.50 L566.68,400.00 L566.67,400.50 L566.67,401.00 L566.67,401.50 L566.66,402.00 L566.66,402.50 L566.66,403.00 L566.66,403.50 L566.65,404.00 L566.65,404.50 L566.65,405.00 L566.64,405.50 L566.64,406.00 L566.63,406.50 L566.63,407.00 L566.63,407.50 L566.62,408.00 L566.62,408.50 L566.61,409.00 L566.61,409.50 L566.60,410.00 L566.59,410.50 L566.59,411.00 L566.58,411.50 L566.57,412.00 L566.56,412.50 L566.56,413.00 L566.55,413.50 L566.54,414.00 L566.53,414.50 L566.52,415.00 L566.51,415.50 L566.50,416.00 L566.50,416.50 L566.50,417.00 L566.50,417.50 L566.50,418.00 L566.50,418.50 L566.50,419.00 L566.50,419.50 L566.50,420.00 L566.50,420.50 L566.50,421.00 L566.50,421.50 L566.50,422.00 L566.50,422.50 L566.50,423.00 L566.50,423.50 L566.50,424.00 L566.50,424.50 L566.50,425.00 L566.50,425.50 L566.50,426.00 L566.50,426.50 L566.00,426.50 L566.00,426.00 L566.00,425.50 L566.00,425.00 L566.00,424.50 L566.00,424.00 L566.00,423.50 L566.00,423.00 L566.00,422.50 L566.00,422.00 L566.00,421.50 L566.00,421.00 L566.00,420.50 L566.00,420.00 L566.00,419.50 L566.00,419.00 L566.00,418.50 L566.00,418.00 L566.00,417.50 L566.00,417.00 L566.00,416.50 L566.00,416.00 L565.99,415.50 L565.98,415.00 L565.97,414.50 L565.96,414.00 L565.95,413.50 L565.94,413.00 L565.94,412.50 L565.93,412.00 L565.92,411.50 L565.91,411.00 L565.91,410.50 L565.90,410.00 L565.89,409.50 L565.89,409.00 L565.88,408.50 L565.88,408.00 L565.87,407.50 L565.87,407.00 L565.87,406.50 L565.86,406.00 L565.86,405.50 L565.85,405.00 L565.85,404.50 L565.85,404.00 L565.84,403.50 L565.84,403.00 L565.84,402.50 L565.84,402.00 L565.83,401.50 L565.83,401.00 L565.83,400.50 L565.82,400.00 L565.82,399.50 L565.82,399.00 L565.81,398.50 L565.81,398.00 L565.81,397.50 L565.81,397.00 L565.80,396.50 L565.80,396.00 L565.80,395.50 L565.79,395.00 L565.79,394.50 L565.79,394.00 L565.78,393.50 L565.78,393.00 L565.77,392.50 L565.77,392.00 L565.76,391.50 L565.76,391.00 L565.76,390.50 L565.75,390.00 L565.74,389.50 L565.74,389.00 L565.73,388.50 L565.73,388.00 L565.72,387.50 L565.71,387.00 L565.71,386.50 L565.70,386.00 L565.69,385.50 L565.68,385.00 L565.67,384.50 L565.67,384.00 L565.66,383.50 L565.65,383.00 L565.64,382.50 L565.63,382.00 L565.62,381.50 L565.61,381.00 L565.60,380.50 L565.59,380.00 L565.58,379.50 L565.57,379.00 L565.56,378.50 L565.55,378.00 L565.54,377.50 L565.53,377.00 L565.52,376.50 L565.51,376.00 L565.50,375.50 L565.48,375.00 L565.47,374.50 L565.46,374.00 L565.45,373.50 L565.43,373.00 L565.42,372.50 L565.41,372.00 L565.39,371.50 L565.38,371.00 L565.36,370.50 L565.34,370.00 L565.33,369.50 L565.31,369.00 L565.29,368.50 L565.28,368.00 L565.26,367.50 L565.24,367.00 L565.22,366.50 L565.20,366.00 L565.18,365.50 L565.15,365.00 L565.13,364.50 L565.11,364.00 L565.08,363.50 L565.06,363.00 L565.03,362.50 L565.00,362.00 L564.97,361.50 L564.94,361.00 L564.91,360.50 L564.88,360.00 L564.85,359.50 L564.82,359.00 L564.78,358.50 L564.75,358.00 L564.71,357.50 L564.67,357.00 L564.63,356.50 L564.59,356.00 L564.55,355.50 L564.51,355.00 L564.46,354.50 L564.41,354.00 L564.36,353.50 L564.31,353.00 L564.25,352.50 L564.20,352.00 L564.14,351.50 L564.08,351.00 L564.01,350.50 L563.95,350.00 L563.88,349.50 L563.81,349.00 L563.74,348.50 L563.67,348.00 L563.60,347.50 L563.52,347.00 L563.45,346.50 L563.37,346.00 L563.28,345.50 L563.20,345.00 L563.10,344.50 L563.01,344.00 L562.90,343.50 L562.79,343.00 L562.68,342.50 L562.57,342.00 L562.44,341.50 L562.32,341.00 L562.19,340.50 L562.05,340.00 L561.90,339.50 L561.74,339.00 L561.57,338.50 L561.39,338.00 L561.20,337.50 L561.00,337.00 L560.81,336.50 L560.61,336.00 L560.41,335.50 L560.21,335.00 L560.01,334.50 L559.80,334.00 L559.59,333.50 L559.38,333.00 L559.16,332.50 L558.94,332.00 L558.72,331.50 L558.50,331.00 L558.28,330.50 L558.05,330.00 L557.82,329.50 L557.57,329.00 L557.33,328.50 L557.11,328.00 L556.89,327.50 L556.68,327.00 L556.48,326.50 L556.28,326.00 L556.08,325.50 L555.89,325.00 L555.70,324.50 L555.51,324.00 L555.32,323.50 L555.14,323.00 L554.96,322.50 L554.79,322.00 L554.62,321.50 L554.45,321.00 L554.28,320.50 L554.11,320.00 L553.93,319.50 L553.74,319.00 L553.55,318.50 L553.34,318.00 L553.12,317.50 L552.89,317.00 L552.65,316.50 L552.41,316.00 L552.17,315.50 L551.93,315.00 L551.70,314.50 L551.48,314.00 L551.27,313.50 L551.06,313.00 L550.85,312.50 L550.65,312.00 L550.45,311.50 L550.25,311.00 L550.06,310.50 L549.87,310.00 L549.69,309.50 L549.52,309.00 L549.35,308.50 L549.19,308.00 L549.04,307.50 L548.89,307.00 L548.75,306.50 L548.61,306.00 L548.47,305.50 L548.33,305.00 L548.19,304.50 L548.05,304.00 L547.91,303.50 L547.76,303.00 L547.60,302.50 L547.45,302.00 L547.30,301.50 L547.16,301.00 L547.03,300.50 L546.91,300.00 L546.80,299.50 L546.72,299.00 L546.64,298.50 L546.57,298.00 L546.50,297.50 L546.44,297.00 L546.38,296.50 L546.33,296.00 L546.27,295.50 L546.22,295.00 L546.16,294.50 L546.10,294.00 L546.04,293.50 L545.98,293.00 L545.92,292.50 L545.86,292.00 L545.81,291.50 L545.75,291.00 L545.71,290.50 L545.67,290.00 L545.65,289.50 L545.62,289.00 L545.60,288.50 L545.59,288.00 L545.57,287.50 L545.56,287.00 L545.55,286.50 L545.54,286.00 L545.53,285.50 L545.52,285.00 L545.50,284.50 L545.49,284.00 L545.47,283.50 L545.45,283.00 L545.42,282.50 L545.39,282.00 L545.36,281.50 L545.32,281.00 L545.28,280.50 L545.23,280.00 L545.18,279.50 L545.13,279.00 L545.07,278.50 L545.01,278.00 L544.94,277.50 L544.86,277.00 L544.77,276.50 L544.66,276.00 L544.55,275.50 L544.44,275.00 L544.31,274.50 L544.18,274.00 L544.05,273.50 L543.91,273.00 L543.74,272.50 L543.57,272.00 L543.38,271.50 L543.18,271.00 L542.97,270.50 L542.75,270.00 L542.52,269.50 L542.29,269.00 L542.05,268.50 L541.81,268.00 L541.55,267.50 L541.28,267.00 L540.99,266.50 L540.70,266.00 L540.39,265.50 L540.07,265.00 L539.74,264.50 L539.39,264.00 L539.03,263.50 L538.65,263.00 L538.24,262.50 L537.81,262.00 L537.36,261.50 L536.89,261.00 L536.42,260.50 L535.93,260.00 L535.44,259.50 L534.95,259.00 L534.44,258.50 L533.91,258.00 L533.36,257.50 L532.79,257.00 L532.22,256.50 L531.65,256.00 L531.08,255.50 L530.52,255.00 L529.97,254.50 L529.44,254.00 L528.91,253.50 L528.37,253.00 L527.84,252.50 L527.32,252.00 L526.80,251.50 L526.30,251.00 L525.82,250.50 L525.36,250.00 L524.93,249.50 L524.53,249.00 L524.14,248.50 L523.77,248.00 L523.40,247.50 L523.06,247.00 L522.72,246.50 L522.40,246.00 L522.08,245.50 L521.78,245.00 L521.49,244.50 L521.22,244.00 L520.96,243.50 L520.71,243.00 L520.47,242.50 L520.23,242.00 L519.99,241.50 L519.75,241.00 L519.50,240.50 L519.24,240.00 L518.99,239.50 L518.75,239.00 L518.53,238.50 L518.34,238.00 L518.15,237.50 L517.97,237.00 L517.80,236.50 L517.64,236.00 L517.49,235.50 L517.34,235.00 L517.20,234.50 L517.07,234.00 L516.95,233.50 L516.83,233.00 L516.72,232.50 L516.62,232.00 L516.52,231.50 L516.42,231.00 L516.33,230.50 L516.24,230.00 L516.16,229.50 L516.09,229.00 L516.02,228.50 L515.95,228.00 L515.88,227.50 L515.82,227.00 L515.75,226.50 L515.69,226.00 L515.64,225.50 L515.60,225.00 L515.57,224.50 L515.55,224.00 L515.55,223.50 L515.55,223.00 L515.55,222.50 L515.55,222.00 L515.55,221.50 L515.55,221.00 L515.55,220.50 L515.55,220.00 L515.55,219.50 L515.55,219.00 L515.56,218.50 L515.57,218.00 L515.60,217.50 L515.63,217.00 L515.66,216.50 L515.70,216.00 L515.75,215.50 L515.79,215.00 L515.83,214.50 L515.86,214.00 L515.90,213.50 L515.94,213.00 L515.97,212.50 L516.01,212.00 L516.05,211.50 L516.10,211.00 L516.14,210.50 L516.19,210.00 L516.24,209.50 L516.29,209.00 L516.36,208.50 L516.42,208.00 L516.49,207.50 L516.57,207.00 L516.65,206.50 L516.73,206.00 L516.81,205.50 L516.89,205.00 L516.97,204.50 L517.05,204.00 L517.13,203.50 L517.22,203.00 L517.30,202.50 L517.39,202.00 L517.48,201.50 L517.57,201.00 L517.66,200.50 L517.75,200.00 L517.83,199.50 L517.91,199.00 L517.99,198.50 L518.06,198.00 L518.13,197.50 L518.20,197.00 L518.27,196.50 L518.34,196.00 L518.40,195.50 L518.46,195.00 L518.52,194.50 L518.58,194.00 L518.63,193.50 L518.68,193.00 L518.72,192.50 L518.76,192.00 L518.80,191.50 L518.84,191.00 L518.88,190.50 L518.91,190.00 L518.96,189.50 L519.00,189.00 L519.05,188.50 L519.10,188.00 L519.16,187.50 L519.23,187.00 L519.29,186.50 L519.37,186.00 L519.44,185.50 L519.52,185.00 L519.61,184.50 L519.69,184.00 L519.79,183.50 L519.89,183.00 L520.00,182.50 L520.11,182.00 L520.24,181.50 L520.37,181.00 L520.51,180.50 L520.66,180.00 L520.82,179.50 L520.98,179.00 L521.16,178.50 L521.35,178.00 L521.57,177.50 L521.79,177.00 L522.04,176.50 L522.30,176.00 L522.57,175.50 L522.85,175.00 L523.15,174.50 L523.45,174.00 L523.77,173.50 L524.11,173.00 L524.48,172.50 L524.86,172.00 L525.26,171.50 L525.67,171.00 L526.10,170.50 L526.54,170.00 L526.98,169.50 L527.43,169.00 L527.90,168.50 L528.38,168.00 L528.87,167.50 L529.38,167.00 L529.91,166.50 L530.45,166.00 L531.00,165.50 L531.56,165.00 L532.13,164.50 L532.73,164.00 L533.35,163.50 L533.99,163.00 L534.66,162.50 L535.34,162.00 L536.02,161.50 L536.70,161.00 L537.37,160.50 L538.03,160.00 L538.68,159.50 L539.32,159.00 L539.96,158.50 L540.61,158.00 L541.25,157.50 L541.88,157.00 L542.50,156.50 L543.10,156.00 L543.68,155.50 L544.24,155.00 L544.76,154.50 L545.27,154.00 L545.76,153.50 L546.23,153.00 L546.69,152.50 L547.14,152.00 L547.58,151.50 L548.01,151.00 L548.43,150.50 L548.85,150.00 L549.26,149.50 L549.66,149.00 L550.05,148.50 L550.44,148.00 L550.81,147.50 L551.19,147.00 L551.56,146.50 L551.92,146.00 L552.30,145.50 L552.67,145.00 L553.05,144.50 L553.43,144.00 L553.80,143.50 L554.17,143.00 L554.52,142.50 L554.87,142.00 L555.19,141.50 L555.51,141.00 L555.79,140.50 L556.06,140.00 L556.31,139.50 L556.55,139.00 L556.77,138.50 L556.98,138.00 L557.19,137.50 L557.39,137.00 L557.60,136.50 L557.81,136.00 L558.03,135.50 L558.26,135.00 L558.50,134.50 L558.76,134.00 L559.04,133.50 L559.33,133.00 L559.63,132.50 L559.93,132.00 L560.23,131.50 L560.52,131.00 L560.81,130.50 L561.08,130.00 L561.33,129.50 L561.56,129.00 L561.77,128.50 L561.97,128.00 L562.16,127.50 L562.34,127.00 L562.52,126.50 L562.69,126.00 L562.85,125.50 L563.01,125.00 L563.16,124.50 L563.30,124.00 L563.44,123.50 L563.58,123.00 L563.71,122.50 L563.84,122.00 L563.96,121.50 L564.09,121.00 L564.21,120.50 L564.32,120.00 L564.43,119.50 L564.54,119.00 L564.64,118.50 L564.73,118.00 L564.82,117.50 L564.90,117.00 L564.98,116.50 L565.05,116.00 L565.12,115.50 L565.19,115.00 L565.25,114.50 L565.31,114.00 L565.37,113.50 L565.43,113.00 L565.49,112.50 L565.54,112.00 L565.60,111.50 L565.65,111.00 L565.71,110.50 L565.76,110.00 L565.80,109.50 L565.85,109.00 L565.90,108.50 L565.95,108.00 L566.00,107.50 L566.00,107.00 L566.00,106.50 L566.00,106.00 L566.00,105.50 L566.00,105.00 Z" fill="#4DBBD5" fill-opacity="0.56"/>
<line x1="159.6" y1="122.6" x2="159.6" y2="184.9" stroke="#333333" stroke-width="2"/>
<line x1="159.6" y1="252.9" x2="159.6" y2="351.0" stroke="#333333" stroke-width="2"/>
<rect x="115.4" y="184.9" width="88.0" height="68.0" fill="#E64B35" fill-opacity="0.56" stroke="#333333" stroke-width="2"/>
<line x1="115.4" y1="216.0" x2="203.4" y2="216.0" stroke="#333333" stroke-width="4.4"/>
<line x1="295.1" y1="145.3" x2="295.1" y2="173.7" stroke="#333333" stroke-width="2"/>
<line x1="295.1" y1="246.6" x2="295.1" y2="351.5" stroke="#333333" stroke-width="2"/>
<rect x="251.3" y="173.7" width="87.30000000000001" height="72.9" fill="#4DBBD5" fill-opacity="0.56" stroke="#333333" stroke-width="2"/>
<line x1="251.3" y1="195.6" x2="338.6" y2="195.6" stroke="#333333" stroke-width="4.4"/>
<line x1="430.7" y1="126.4" x2="430.7" y2="194.8" stroke="#333333" stroke-width="2"/>
<line x1="430.7" y1="263.6" x2="430.7" y2="369.4" stroke="#333333" stroke-width="2"/>
<rect x="386.8" y="194.8" width="87.80000000000001" height="68.80000000000001" fill="#E64B35" fill-opacity="0.56" stroke="#333333" stroke-width="2"/>
<line x1="386.8" y1="226.0" x2="474.6" y2="226.0" stroke="#333333" stroke-width="4.4"/>
<circle cx="430.7" cy="372.0" r="3.9" fill="none" stroke="#5f5f5f" stroke-opacity="0.8" stroke-width="1.3"/>
<circle cx="430.7" cy="373.0" r="3.9" fill="none" stroke="#5f5f5f" stroke-opacity="0.8" stroke-width="1.3"/>
<circle cx="430.7" cy="379.0" r="3.9" fill="none" stroke="#5f5f5f" stroke-opacity="0.8" stroke-width="1.3"/>
<circle cx="430.7" cy="397.3" r="3.9" fill="none" stroke="#5f5f5f" stroke-opacity="0.8" stroke-width="1.3"/>
<line x1="566.25" y1="139.8" x2="566.25" y2="189.5" stroke="#333333" stroke-width="2"/>
<line x1="566.25" y1="252.2" x2="566.25" y2="328.6" stroke="#333333" stroke-width="2"/>
<rect x="522.2" y="189.5" width="87.59999999999991" height="62.69999999999999" fill="#4DBBD5" fill-opacity="0.56" stroke="#333333" stroke-width="2"/>
<line x1="522.2" y1="221.8" x2="609.8" y2="221.8" stroke="#333333" stroke-width="4.4"/>
<circle cx="566.25" cy="392.7" r="3.9" fill="none" stroke="#5f5f5f" stroke-opacity="0.8" stroke-width="1.3"/>
<text transform="translate(146.507,221.610) scale(0.18661,0.19014)" font-size="100" style="font-family:&quot;Liberation Sans&quot;,sans-serif" fill="#FFFFFF" fill-opacity="0.82" xml:space="preserve">1.8</text>
<text transform="translate(282.481,201.021) scale(0.18385,0.17887)" font-size="100" style="font-family:&quot;Liberation Sans&quot;,sans-serif" fill="#FFFFFF" fill-opacity="0.82" xml:space="preserve">2.6</text>
<text transform="translate(416.881,232.000) scale(0.18984,0.19130)" font-size="100" style="font-family:&quot;Liberation Sans&quot;,sans-serif" fill="#FFFFFF" fill-opacity="0.82" xml:space="preserve">1.4</text>
<text transform="translate(552.907,228.203) scale(0.18661,0.19714)" font-size="100" style="font-family:&quot;Liberation Sans&quot;,sans-serif" fill="#FFFFFF" fill-opacity="0.82" xml:space="preserve">1.5</text>
<path d="M159.5,99.6 L159.5,94 L295,94 L295,98.1" fill="none" stroke="#111" stroke-width="2"/>
<path d="M430.6,105.5 L430.6,99.6 L565.6,99.6 L565.6,103.9" fill="none" stroke="#111" stroke-width="2"/>
<text transform="translate(198.900,86.747) scale(0.20000,0.19302)" font-size="100" style="font-family:&quot;Liberation Serif&quot;,serif" fill="#333"  xml:space="preserve">p=0. 046</text>
<text transform="translate(480.905,91.793) scale(0.19767,0.19080)" font-size="100" style="font-family:&quot;Liberation Serif&quot;,serif" fill="#333"  xml:space="preserve">p=0. 13</text>
<rect x="77" y="69.2" width="570.7" height="2.6" fill="#000"/>
<rect x="645.2" y="69.2" width="2.6" height="386" fill="#000"/>
<line x1="78.45" y1="69.8" x2="78.45" y2="453.5" stroke="#000" stroke-width="3.9" stroke-linecap="round"/>
<rect x="76.5" y="451.95" width="572" height="3.7" fill="#000"/>
<rect x="72.8" y="156.29999999999998" width="4" height="3.6" fill="#000"/>
<text transform="translate(50.588,169.418) scale(0.30588,0.31765)" font-size="100" style="font-family:&quot;Liberation Sans&quot;,sans-serif" fill="#000"  xml:space="preserve">4</text>
<rect x="72.8" y="259.5" width="4" height="3.6" fill="#000"/>
<text transform="translate(51.042,271.989) scale(0.31458,0.31127)" font-size="100" style="font-family:&quot;Liberation Sans&quot;,sans-serif" fill="#000"  xml:space="preserve">0</text>
<rect x="72.8" y="362.3" width="4" height="3.6" fill="#000"/>
<text transform="translate(32.976,376.025) scale(0.30472,0.32500)" font-size="100" style="font-family:&quot;Liberation Sans&quot;,sans-serif" fill="#000"  xml:space="preserve">−4</text>
<rect x="157.79999999999998" y="455" width="3.6" height="4.4" fill="#000"/>
<text transform="translate(139.717,485.984) scale(0.31034,0.31571)" font-size="100" style="font-family:&quot;Liberation Sans&quot;,sans-serif" fill="#000"  xml:space="preserve">No</text>
<rect x="293.3" y="455" width="3.6" height="4.4" fill="#000"/>
<text transform="translate(275.103,485.984) scale(0.31207,0.31571)" font-size="100" style="font-family:&quot;Liberation Sans&quot;,sans-serif" fill="#000"  xml:space="preserve">No</text>
<rect x="428.9" y="455" width="3.6" height="4.4" fill="#000"/>
<text transform="translate(406.311,485.590) scale(0.29618,0.31000)" font-size="100" style="font-family:&quot;Liberation Sans&quot;,sans-serif" fill="#000"  xml:space="preserve">Yes</text>
<rect x="564.45" y="455" width="3.6" height="4.4" fill="#000"/>
<text transform="translate(541.710,485.590) scale(0.29682,0.31000)" font-size="100" style="font-family:&quot;Liberation Sans&quot;,sans-serif" fill="#000"  xml:space="preserve">Yes</text>
<text transform="translate(313.557,519.479) scale(0.30543,0.32143)" font-size="100" style="font-family:&quot;Liberation Sans&quot;,sans-serif" fill="#000"  xml:space="preserve">Drinker</text>
<text transform="translate(22.300,281.694) rotate(-90) scale(0.31171,0.31159)" font-size="100" style="font-family:&quot;Liberation Sans&quot;,sans-serif" fill="#000"  xml:space="preserve">DII</text>
<text transform="translate(246.192,26.814) scale(0.28854,0.28592)" font-size="100" style="font-family:&quot;Liberation Sans&quot;,sans-serif" fill="#000"  xml:space="preserve">PSA</text>
<rect x="314.2" y="0.95" width="32.5" height="32.0" fill="#E64B35" fill-opacity="0.56"/>
<line x1="330.75" y1="2.0" x2="330.75" y2="8.2" stroke="#333333" stroke-width="1.9"/>
<line x1="330.75" y1="25.8" x2="330.75" y2="31.9" stroke="#333333" stroke-width="1.9"/>
<rect x="317.5" y="8.2" width="26.2" height="17.6" fill="#E64B35" fill-opacity="0.56" stroke="#333333" stroke-width="1.8" stroke-linejoin="round"/>
<line x1="317.5" y1="17.0" x2="343.7" y2="17.0" stroke="#333333" stroke-width="2.1"/>
<text transform="translate(352.588,27.200) scale(0.28232,0.30000)" font-size="100" style="font-family:&quot;Liberation Sans&quot;,sans-serif" fill="#000"  xml:space="preserve">&lt;=4</text>
<rect x="407.7" y="0.95" width="32.5" height="32.0" fill="#4DBBD5" fill-opacity="0.56"/>
<line x1="424.25" y1="2.0" x2="424.25" y2="8.2" stroke="#333333" stroke-width="1.9"/>
<line x1="424.25" y1="25.8" x2="424.25" y2="31.9" stroke="#333333" stroke-width="1.9"/>
<rect x="411.0" y="8.2" width="26.2" height="17.6" fill="#4DBBD5" fill-opacity="0.56" stroke="#333333" stroke-width="1.8" stroke-linejoin="round"/>
<line x1="411.0" y1="17.0" x2="437.2" y2="17.0" stroke="#333333" stroke-width="2.1"/>
<text transform="translate(445.175,27.200) scale(0.28491,0.30000)" font-size="100" style="font-family:&quot;Liberation Sans&quot;,sans-serif" fill="#000"  xml:space="preserve">&gt;4</text>
</svg>
</body></html>
